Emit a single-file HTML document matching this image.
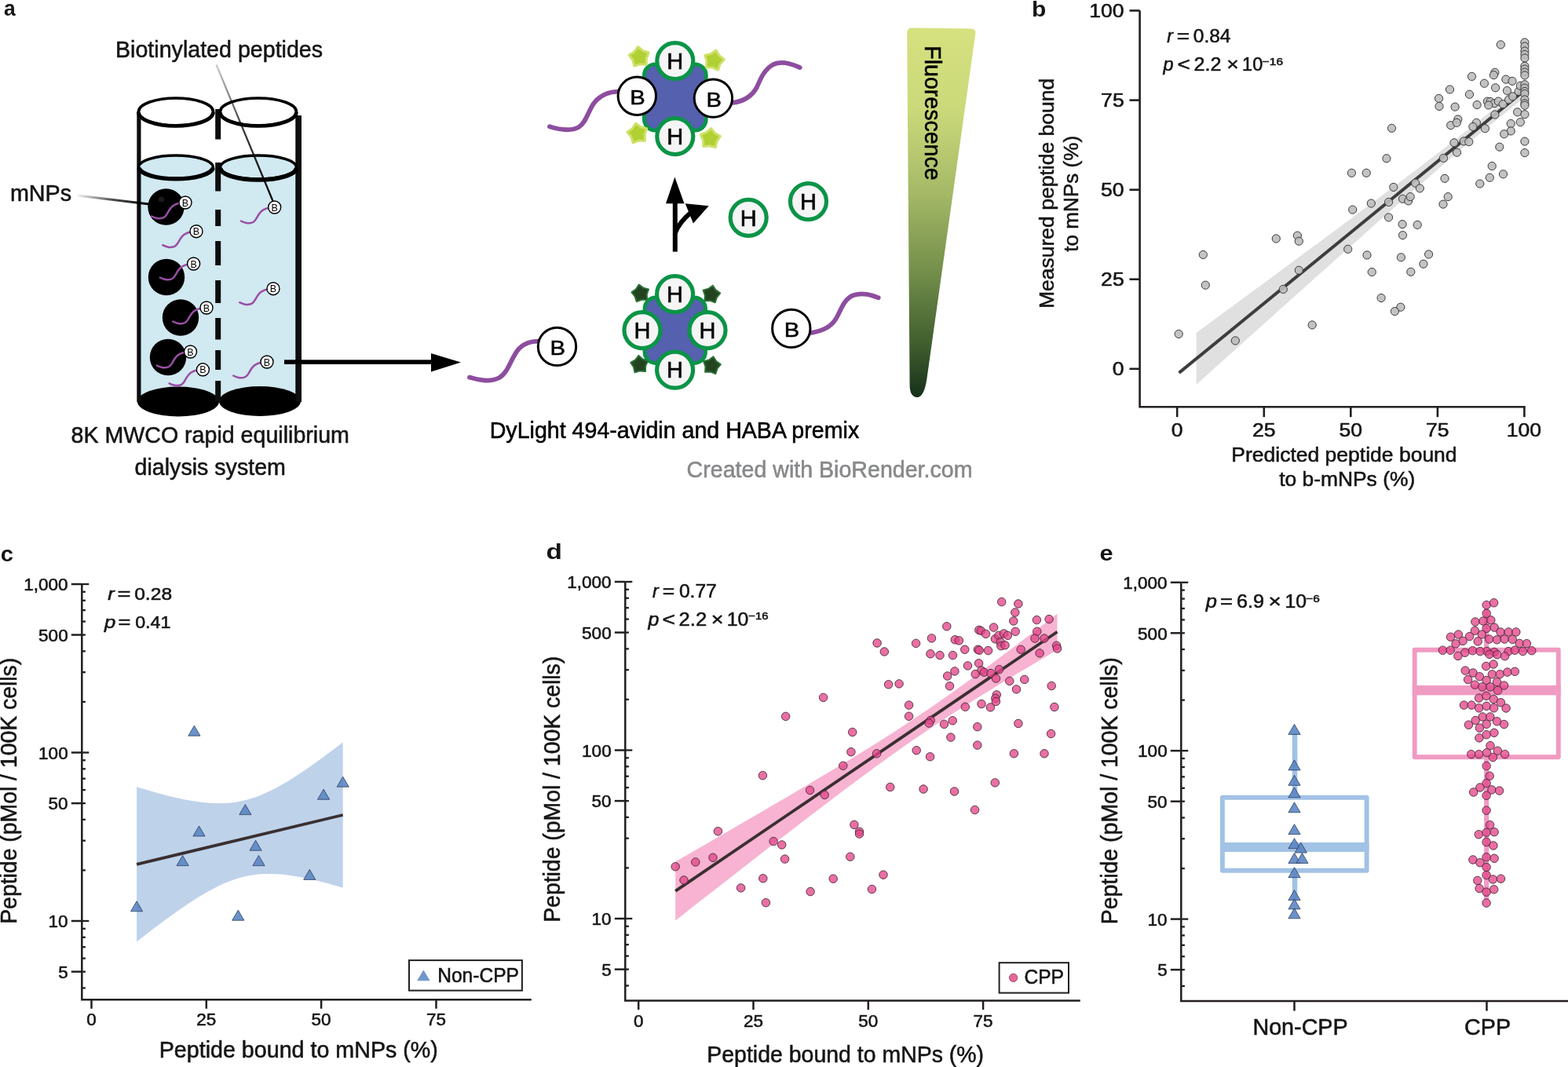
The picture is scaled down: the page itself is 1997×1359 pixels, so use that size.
<!DOCTYPE html><html><head><meta charset="utf-8"><title>Figure</title><style>html,body{margin:0;padding:0;background:#fff;}svg{display:block;}text{font-family:"Liberation Sans", Arial, Helvetica, sans-serif;}</style></head><body><svg width="1997" height="1359" viewBox="0 0 1997 1359"><rect width="1997" height="1359" fill="#fff"/><text x="5.1" y="20.4" font-size="28" fill="#151515" font-weight="bold" textLength="14.7" lengthAdjust="spacingAndGlyphs">a</text>
<text x="147" y="73.2" font-size="28.8" fill="#151515" stroke="#151515" stroke-width="0.55" textLength="264.1" lengthAdjust="spacingAndGlyphs">Biotinylated peptides</text>
<text x="12.9" y="255.6" font-size="28.8" fill="#151515" stroke="#151515" stroke-width="0.55" textLength="78.2" lengthAdjust="spacingAndGlyphs">mNPs</text>
<text x="90.5" y="564.3" font-size="28.8" fill="#151515" stroke="#151515" stroke-width="0.55" textLength="354.4" lengthAdjust="spacingAndGlyphs">8K MWCO rapid equilibrium</text>
<text x="171.6" y="605.2" font-size="28.8" fill="#151515" stroke="#151515" stroke-width="0.55" textLength="192.3" lengthAdjust="spacingAndGlyphs">dialysis system</text>
<text x="623.7" y="557.7" font-size="28.8" fill="#000" stroke="#000" stroke-width="0.55" textLength="470.5" lengthAdjust="spacingAndGlyphs">DyLight 494-avidin and HABA premix</text>
<text x="874.6" y="607.7" font-size="28.8" fill="#87888a" stroke="#87888a" stroke-width="0.55" textLength="363.9" lengthAdjust="spacingAndGlyphs">Created with BioRender.com</text>
<rect x="177" y="213" width="203" height="298" fill="#d1e9f1"/>
<ellipse cx="227" cy="511.5" rx="52" ry="19" fill="#000"/>
<ellipse cx="331" cy="511" rx="52" ry="19" fill="#000"/>
<rect x="174.3" y="142" width="5.2" height="370" fill="#0d0d0d"/>
<rect x="376.3" y="147" width="7.7" height="365" fill="#0d0d0d"/>
<rect x="274.2" y="139" width="7" height="38.5" fill="#0d0d0d"/>
<rect x="274.2" y="207" width="7" height="36.5" fill="#0d0d0d"/>
<rect x="274.2" y="267" width="7" height="21" fill="#0d0d0d"/>
<rect x="274.2" y="307" width="7" height="31" fill="#0d0d0d"/>
<rect x="274.2" y="357" width="7" height="29" fill="#0d0d0d"/>
<rect x="274.2" y="405" width="7" height="27.5" fill="#0d0d0d"/>
<rect x="274.2" y="446" width="7" height="25" fill="#0d0d0d"/>
<rect x="274.2" y="485" width="7" height="26" fill="#0d0d0d"/>
<ellipse cx="224" cy="213" rx="47.3" ry="15" fill="#d1e9f1" stroke="#000" stroke-width="3.6"/>
<ellipse cx="329" cy="213" rx="48.3" ry="15" fill="#d1e9f1" stroke="#000" stroke-width="3.6"/>
<path d="M177,214 A47.3,15 0 0 0 271.3,214" fill="none" stroke="#000" stroke-width="5.5"/>
<path d="M280.7,214 A48.3,15 0 0 0 377.3,214" fill="none" stroke="#000" stroke-width="5.5"/>
<ellipse cx="224" cy="142.4" rx="47.5" ry="17.4" fill="#fff" stroke="#000" stroke-width="3.7"/>
<ellipse cx="328.9" cy="142.4" rx="48.5" ry="17.4" fill="#fff" stroke="#000" stroke-width="3.7"/>
<path d="M176.5,143 A47.5,17.4 0 0 0 271.5,143" fill="none" stroke="#000" stroke-width="4.6"/>
<path d="M280.4,143 A48.5,17.4 0 0 0 377.4,143" fill="none" stroke="#000" stroke-width="4.6"/>
<circle cx="211.5" cy="263.5" r="23.2" fill="#000"/>
<circle cx="212" cy="353" r="23.2" fill="#000"/>
<circle cx="230" cy="404.5" r="23.2" fill="#000"/>
<circle cx="214" cy="455" r="23.2" fill="#000"/>
<ellipse cx="205.5" cy="254" rx="4" ry="3.5" fill="#1a1a1a"/>
<path d="M227.7,259 c-8.5,1.5 -12,8 -15,13.5 c-3,5.5 -7.5,6.5 -12.5,5.5 c-3,-0.5 -5,-1.5 -7,-2.5" fill="none" stroke="#9a4ea6" stroke-width="2.5" stroke-linecap="round"/>
<path d="M241.7,295.7 c-8.5,1.5 -12,8 -15,13.5 c-3,5.5 -7.5,6.5 -12.5,5.5 c-3,-0.5 -5,-1.5 -7,-2.5" fill="none" stroke="#9a4ea6" stroke-width="2.5" stroke-linecap="round"/>
<path d="M341.4,265 c-8.5,1.5 -12,8 -15,13.5 c-3,5.5 -7.5,6.5 -12.5,5.5 c-3,-0.5 -5,-1.5 -7,-2.5" fill="none" stroke="#9a4ea6" stroke-width="2.5" stroke-linecap="round"/>
<path d="M238.3,337 c-8.5,1.5 -12,8 -15,13.5 c-3,5.5 -7.5,6.5 -12.5,5.5 c-3,-0.5 -5,-1.5 -7,-2.5" fill="none" stroke="#9a4ea6" stroke-width="2.5" stroke-linecap="round"/>
<path d="M339.7,368.7 c-8.5,1.5 -12,8 -15,13.5 c-3,5.5 -7.5,6.5 -12.5,5.5 c-3,-0.5 -5,-1.5 -7,-2.5" fill="none" stroke="#9a4ea6" stroke-width="2.5" stroke-linecap="round"/>
<path d="M254.7,393 c-8.5,1.5 -12,8 -15,13.5 c-3,5.5 -7.5,6.5 -12.5,5.5 c-3,-0.5 -5,-1.5 -7,-2.5" fill="none" stroke="#9a4ea6" stroke-width="2.5" stroke-linecap="round"/>
<path d="M234.2,449 c-8.5,1.5 -12,8 -15,13.5 c-3,5.5 -7.5,6.5 -12.5,5.5 c-3,-0.5 -5,-1.5 -7,-2.5" fill="none" stroke="#9a4ea6" stroke-width="2.5" stroke-linecap="round"/>
<path d="M250.1,471.8 c-8.5,1.5 -12,8 -15,13.5 c-3,5.5 -7.5,6.5 -12.5,5.5 c-3,-0.5 -5,-1.5 -7,-2.5" fill="none" stroke="#9a4ea6" stroke-width="2.5" stroke-linecap="round"/>
<path d="M331.7,462 c-8.5,1.5 -12,8 -15,13.5 c-3,5.5 -7.5,6.5 -12.5,5.5 c-3,-0.5 -5,-1.5 -7,-2.5" fill="none" stroke="#9a4ea6" stroke-width="2.5" stroke-linecap="round"/>
<circle cx="236" cy="258" r="8" fill="#fff" stroke="#000" stroke-width="1.4"/>
<text x="236" y="262.6" font-size="12.5" text-anchor="middle" fill="#000">B</text>
<circle cx="250" cy="294.7" r="8" fill="#fff" stroke="#000" stroke-width="1.4"/>
<text x="250" y="299.3" font-size="12.5" text-anchor="middle" fill="#000">B</text>
<circle cx="349.7" cy="264" r="8" fill="#fff" stroke="#000" stroke-width="1.4"/>
<text x="349.7" y="268.6" font-size="12.5" text-anchor="middle" fill="#000">B</text>
<circle cx="246.6" cy="336" r="8" fill="#fff" stroke="#000" stroke-width="1.4"/>
<text x="246.6" y="340.6" font-size="12.5" text-anchor="middle" fill="#000">B</text>
<circle cx="348" cy="367.7" r="8" fill="#fff" stroke="#000" stroke-width="1.4"/>
<text x="348" y="372.3" font-size="12.5" text-anchor="middle" fill="#000">B</text>
<circle cx="263" cy="392" r="8" fill="#fff" stroke="#000" stroke-width="1.4"/>
<text x="263" y="396.6" font-size="12.5" text-anchor="middle" fill="#000">B</text>
<circle cx="242.5" cy="448" r="8" fill="#fff" stroke="#000" stroke-width="1.4"/>
<text x="242.5" y="452.6" font-size="12.5" text-anchor="middle" fill="#000">B</text>
<circle cx="258.4" cy="470.8" r="8" fill="#fff" stroke="#000" stroke-width="1.4"/>
<text x="258.4" y="475.4" font-size="12.5" text-anchor="middle" fill="#000">B</text>
<circle cx="340" cy="461" r="8" fill="#fff" stroke="#000" stroke-width="1.4"/>
<text x="340" y="465.6" font-size="12.5" text-anchor="middle" fill="#000">B</text>
<defs><linearGradient id="gBio" gradientUnits="userSpaceOnUse" x1="275.5" y1="82.4" x2="347.5" y2="256"><stop offset="0" stop-color="#000" stop-opacity="0.2"/><stop offset="0.45" stop-color="#000" stop-opacity="0.75"/><stop offset="1" stop-color="#000"/></linearGradient><linearGradient id="gNP" gradientUnits="userSpaceOnUse" x1="98.6" y1="249" x2="190" y2="260"><stop offset="0" stop-color="#000" stop-opacity="0.05"/><stop offset="0.5" stop-color="#000" stop-opacity="0.7"/><stop offset="1" stop-color="#000"/></linearGradient><linearGradient id="gFl" x1="0" y1="0" x2="0" y2="1"><stop offset="0" stop-color="#d6e17f"/><stop offset="0.22" stop-color="#cbd97a"/><stop offset="0.45" stop-color="#a4b866"/><stop offset="0.65" stop-color="#76914c"/><stop offset="0.85" stop-color="#41602f"/><stop offset="1" stop-color="#17301a"/></linearGradient></defs>
<line x1="275.5" y1="82.4" x2="347.5" y2="256" stroke="url(#gBio)" stroke-width="2.3"/>
<line x1="98.6" y1="249" x2="190" y2="260" stroke="url(#gNP)" stroke-width="3"/>
<rect x="362" y="458.3" width="190" height="5.6" fill="#000"/>
<polygon points="549,450 587,461.5 549,473.5" fill="#000"/>
<path d="M700,161.3 C712,165 726,168 737,162 C746,157 749,142 756,132 C764,121 774,117 786.6,116.6" fill="none" stroke="#8d4d9f" stroke-width="5.8" stroke-linecap="round"/>
<path d="M933,130.9 C948,129 958,122 964,111 C969,99 974,88 985,82 C996,77 1008,81 1018.7,86.1" fill="none" stroke="#8d4d9f" stroke-width="5.8" stroke-linecap="round"/>
<path d="M598,480.6 C608,483 622,488 636,481 C648,474 651,455 661,444 C669,436 677,435 684.6,434.6" fill="none" stroke="#8d4d9f" stroke-width="5.8" stroke-linecap="round"/>
<path d="M1033.5,423.8 C1045,422 1057,418 1064,407 C1071,396 1074,381 1087,376 C1099,372 1110,376 1118.7,379.2" fill="none" stroke="#8d4d9f" stroke-width="5.8" stroke-linecap="round"/>
<rect x="820.4" y="81.9" width="78.9" height="84.2" rx="14" fill="#5560ae" stroke="#0a9447" stroke-width="4.8"/>
<path d="M812.6,59.5 L818.7,64.6 L826.2,67 L823.2,74.4 L823.2,82.3 L815.3,81.7 L807.8,84.1 L805.9,76.5 L801.2,70.1 L807.9,65.9 Z" fill="#b0d033" stroke="#cfe168" stroke-width="3" stroke-linejoin="round"/>
<path d="M911.9,64.1 L916,70.8 L922.3,75.6 L917.2,81.6 L914.6,89.1 L907.3,86 L899.4,85.8 L900.1,78 L897.8,70.4 L905.5,68.6 Z" fill="#b0d033" stroke="#cfe168" stroke-width="3" stroke-linejoin="round"/>
<path d="M809.7,157 L816,161.7 L823.7,163.8 L821.1,171.3 L821.5,179.2 L813.6,179.1 L806.2,181.9 L803.9,174.3 L798.9,168.2 L805.4,163.6 Z" fill="#b0d033" stroke="#cfe168" stroke-width="3" stroke-linejoin="round"/>
<path d="M905.7,163.4 L910.5,169.6 L917.4,173.5 L913,180.1 L911.3,187.8 L903.7,185.7 L895.8,186.5 L895.5,178.6 L892.3,171.3 L899.8,168.6 Z" fill="#b0d033" stroke="#cfe168" stroke-width="3" stroke-linejoin="round"/>
<circle cx="811.3" cy="122.3" r="24.2" fill="#fff" stroke="#000" stroke-width="3"/>
<text x="812.1" y="132.9" font-size="26" text-anchor="middle" fill="#000" stroke="#000" stroke-width="0.5" textLength="19.5" lengthAdjust="spacingAndGlyphs">B</text>
<circle cx="908.4" cy="125.1" r="24.2" fill="#fff" stroke="#000" stroke-width="3"/>
<text x="909.2" y="135.7" font-size="26" text-anchor="middle" fill="#000" stroke="#000" stroke-width="0.5" textLength="19.5" lengthAdjust="spacingAndGlyphs">B</text>
<circle cx="859.8" cy="77.6" r="23" fill="#f5f5f5" stroke="#0a9447" stroke-width="5.2"/>
<text x="859.8" y="87.8" font-size="29" text-anchor="middle" fill="#000" stroke="#000" stroke-width="0.6">H</text>
<circle cx="859.8" cy="173.7" r="23" fill="#f5f5f5" stroke="#0a9447" stroke-width="5.2"/>
<text x="859.8" y="183.9" font-size="29" text-anchor="middle" fill="#000" stroke="#000" stroke-width="0.6">H</text>
<rect x="821" y="379" width="77.5" height="83.5" rx="14" fill="#5560ae" stroke="#0a9447" stroke-width="4.8"/>
<path d="M813.8,362.5 L819.3,366.6 L826,368.4 L823.7,374.9 L824.1,381.8 L817.2,381.7 L810.8,384.1 L808.7,377.6 L804.4,372.2 L810,368.2 Z" fill="#23431f" stroke="#2c6e36" stroke-width="2" stroke-linejoin="round"/>
<path d="M907.8,363.7 L911.6,369.4 L917.2,373.4 L912.9,378.8 L910.8,385.3 L904.4,382.9 L897.5,383 L897.9,376.1 L895.6,369.6 L902.3,367.8 Z" fill="#23431f" stroke="#2c6e36" stroke-width="2" stroke-linejoin="round"/>
<path d="M813.4,452.9 L818.5,457.5 L825,459.9 L822.2,466.2 L821.9,473.1 L815.1,472.4 L808.5,474.3 L807,467.5 L803.2,461.8 L809.2,458.4 Z" fill="#23431f" stroke="#2c6e36" stroke-width="2" stroke-linejoin="round"/>
<path d="M908.4,454.4 L912.2,460.1 L917.8,464.1 L913.5,469.5 L911.4,476 L905,473.6 L898.1,473.7 L898.5,466.8 L896.2,460.3 L902.9,458.5 Z" fill="#23431f" stroke="#2c6e36" stroke-width="2" stroke-linejoin="round"/>
<circle cx="859.6" cy="374.6" r="23" fill="#f5f5f5" stroke="#0a9447" stroke-width="5.2"/>
<text x="859.6" y="384.8" font-size="29" text-anchor="middle" fill="#000" stroke="#000" stroke-width="0.6">H</text>
<circle cx="859.6" cy="471.2" r="23" fill="#f5f5f5" stroke="#0a9447" stroke-width="5.2"/>
<text x="859.6" y="481.4" font-size="29" text-anchor="middle" fill="#000" stroke="#000" stroke-width="0.6">H</text>
<circle cx="818" cy="420.6" r="23" fill="#f5f5f5" stroke="#0a9447" stroke-width="5.2"/>
<text x="818" y="430.8" font-size="29" text-anchor="middle" fill="#000" stroke="#000" stroke-width="0.6">H</text>
<circle cx="901" cy="420.6" r="23" fill="#f5f5f5" stroke="#0a9447" stroke-width="5.2"/>
<text x="901" y="430.8" font-size="29" text-anchor="middle" fill="#000" stroke="#000" stroke-width="0.6">H</text>
<circle cx="709.5" cy="441.4" r="24.2" fill="#fff" stroke="#000" stroke-width="3"/>
<text x="710.3" y="452" font-size="26" text-anchor="middle" fill="#000" stroke="#000" stroke-width="0.5" textLength="19.5" lengthAdjust="spacingAndGlyphs">B</text>
<circle cx="1007.8" cy="418.4" r="24.2" fill="#fff" stroke="#000" stroke-width="3"/>
<text x="1008.6" y="429" font-size="26" text-anchor="middle" fill="#000" stroke="#000" stroke-width="0.5" textLength="19.5" lengthAdjust="spacingAndGlyphs">B</text>
<circle cx="953.2" cy="277.3" r="23" fill="#f5f5f5" stroke="#0a9447" stroke-width="5.2"/>
<text x="953.2" y="287.5" font-size="29" text-anchor="middle" fill="#000" stroke="#000" stroke-width="0.6">H</text>
<circle cx="1029.5" cy="256.6" r="23" fill="#f5f5f5" stroke="#0a9447" stroke-width="5.2"/>
<text x="1029.5" y="266.8" font-size="29" text-anchor="middle" fill="#000" stroke="#000" stroke-width="0.6">H</text>
<rect x="856.8" y="258" width="6" height="62.6" fill="#000"/>
<polygon points="859.4,225.6 848,259.3 871.5,259.3" fill="#000"/>
<path d="M859.8,297 C864,286 870,279 879,271.5" fill="none" stroke="#000" stroke-width="6"/>
<polygon points="872.7,259.3 902.7,262.3 882.9,284.5 876.9,269.5" fill="#000"/>
<path d="M1161,35.5 L1236.5,36.6 Q1243.5,37 1242.2,44 L1180.5,482 Q1177,506 1168,506 Q1158.6,505.5 1158.6,490 L1155.2,42 Q1155.3,35.5 1161,35.5 Z" fill="url(#gFl)"/>
<text transform="translate(1177.9,58.3) rotate(90)" font-size="30" fill="#000" stroke="#000" stroke-width="0.55" textLength="171.3" lengthAdjust="spacingAndGlyphs">Fluorescence</text>
<text x="1314" y="20.7" font-size="27" fill="#151515" font-weight="bold" textLength="18.3" lengthAdjust="spacingAndGlyphs">b</text>
<polygon points="1523.6,423.9 1534,416.2 1544.5,408.5 1554.9,400.8 1565.4,393.2 1575.8,385.5 1586.3,377.8 1596.7,370.1 1607.2,362.4 1617.6,354.7 1628,347 1638.5,339.2 1648.9,331.5 1659.4,323.8 1669.8,316.1 1680.3,308.4 1690.7,300.6 1701.2,292.9 1711.6,285.1 1722.1,277.4 1732.5,269.6 1742.9,261.8 1753.4,254 1763.8,246.2 1774.3,238.3 1784.7,230.5 1795.2,222.6 1805.6,214.7 1816.1,206.7 1826.5,198.7 1837,190.7 1847.4,182.6 1857.8,174.4 1868.3,166.2 1878.7,157.9 1889.2,149.5 1899.6,141 1910.1,132.4 1920.5,123.7 1931,115 1941.4,106.1 1941.4,124.5 1931,132.7 1920.5,141.1 1910.1,149.5 1899.6,158 1889.2,166.6 1878.7,175.2 1868.3,184 1857.8,192.8 1847.4,201.8 1837,210.7 1826.5,219.8 1816.1,228.9 1805.6,238 1795.2,247.2 1784.7,256.4 1774.3,265.6 1763.8,274.8 1753.4,284.1 1742.9,293.4 1732.5,302.7 1722.1,312 1711.6,321.3 1701.2,330.6 1690.7,339.9 1680.3,349.3 1669.8,358.6 1659.4,368 1648.9,377.3 1638.5,386.7 1628,396.1 1617.6,405.4 1607.2,414.8 1596.7,424.2 1586.3,433.6 1575.8,443 1565.4,452.3 1554.9,461.7 1544.5,471.1 1534,480.5 1523.6,489.9" fill="#e0e0e0"/>
<line x1="1501.6" y1="474.9" x2="1941.4" y2="115.3" stroke="#3d3d3d" stroke-width="4"/>
<circle cx="1501.2" cy="425.4" r="5.1" fill="#bcbcbc" fill-opacity="0.9" stroke="#3a3a3a" stroke-width="1"/>
<circle cx="1532.3" cy="324.4" r="5.1" fill="#bcbcbc" fill-opacity="0.9" stroke="#3a3a3a" stroke-width="1"/>
<circle cx="1535.3" cy="363.2" r="5.1" fill="#bcbcbc" fill-opacity="0.9" stroke="#3a3a3a" stroke-width="1"/>
<circle cx="1573.3" cy="433.9" r="5.1" fill="#bcbcbc" fill-opacity="0.9" stroke="#3a3a3a" stroke-width="1"/>
<circle cx="1625.3" cy="303.9" r="5.1" fill="#bcbcbc" fill-opacity="0.9" stroke="#3a3a3a" stroke-width="1"/>
<circle cx="1652.4" cy="300.1" r="5.1" fill="#bcbcbc" fill-opacity="0.9" stroke="#3a3a3a" stroke-width="1"/>
<circle cx="1654.3" cy="307.2" r="5.1" fill="#bcbcbc" fill-opacity="0.9" stroke="#3a3a3a" stroke-width="1"/>
<circle cx="1654.3" cy="344.2" r="5.1" fill="#bcbcbc" fill-opacity="0.9" stroke="#3a3a3a" stroke-width="1"/>
<circle cx="1634.3" cy="368.4" r="5.1" fill="#bcbcbc" fill-opacity="0.9" stroke="#3a3a3a" stroke-width="1"/>
<circle cx="1671.2" cy="413.9" r="5.1" fill="#bcbcbc" fill-opacity="0.9" stroke="#3a3a3a" stroke-width="1"/>
<circle cx="1716.7" cy="317.3" r="5.1" fill="#bcbcbc" fill-opacity="0.9" stroke="#3a3a3a" stroke-width="1"/>
<circle cx="1772.5" cy="163.3" r="5.1" fill="#bcbcbc" fill-opacity="0.9" stroke="#3a3a3a" stroke-width="1"/>
<circle cx="1765.9" cy="201.8" r="5.1" fill="#bcbcbc" fill-opacity="0.9" stroke="#3a3a3a" stroke-width="1"/>
<circle cx="1721.4" cy="220.3" r="5.1" fill="#bcbcbc" fill-opacity="0.9" stroke="#3a3a3a" stroke-width="1"/>
<circle cx="1740.2" cy="220.3" r="5.1" fill="#bcbcbc" fill-opacity="0.9" stroke="#3a3a3a" stroke-width="1"/>
<circle cx="1774.8" cy="238.4" r="5.1" fill="#bcbcbc" fill-opacity="0.9" stroke="#3a3a3a" stroke-width="1"/>
<circle cx="1746.3" cy="259" r="5.1" fill="#bcbcbc" fill-opacity="0.9" stroke="#3a3a3a" stroke-width="1"/>
<circle cx="1722.7" cy="267.1" r="5.1" fill="#bcbcbc" fill-opacity="0.9" stroke="#3a3a3a" stroke-width="1"/>
<circle cx="1768.6" cy="257.4" r="5.1" fill="#bcbcbc" fill-opacity="0.9" stroke="#3a3a3a" stroke-width="1"/>
<circle cx="1786.5" cy="253.3" r="5.1" fill="#bcbcbc" fill-opacity="0.9" stroke="#3a3a3a" stroke-width="1"/>
<circle cx="1793.7" cy="255.9" r="5.1" fill="#bcbcbc" fill-opacity="0.9" stroke="#3a3a3a" stroke-width="1"/>
<circle cx="1796.2" cy="250.6" r="5.1" fill="#bcbcbc" fill-opacity="0.9" stroke="#3a3a3a" stroke-width="1"/>
<circle cx="1802.6" cy="233.1" r="5.1" fill="#bcbcbc" fill-opacity="0.9" stroke="#3a3a3a" stroke-width="1"/>
<circle cx="1808.3" cy="239.9" r="5.1" fill="#bcbcbc" fill-opacity="0.9" stroke="#3a3a3a" stroke-width="1"/>
<circle cx="1838.4" cy="201.4" r="5.1" fill="#bcbcbc" fill-opacity="0.9" stroke="#3a3a3a" stroke-width="1"/>
<circle cx="1840" cy="227.3" r="5.1" fill="#bcbcbc" fill-opacity="0.9" stroke="#3a3a3a" stroke-width="1"/>
<circle cx="1844.2" cy="250.6" r="5.1" fill="#bcbcbc" fill-opacity="0.9" stroke="#3a3a3a" stroke-width="1"/>
<circle cx="1838" cy="260.1" r="5.1" fill="#bcbcbc" fill-opacity="0.9" stroke="#3a3a3a" stroke-width="1"/>
<circle cx="1768.6" cy="276.9" r="5.1" fill="#bcbcbc" fill-opacity="0.9" stroke="#3a3a3a" stroke-width="1"/>
<circle cx="1786.1" cy="285.6" r="5.1" fill="#bcbcbc" fill-opacity="0.9" stroke="#3a3a3a" stroke-width="1"/>
<circle cx="1805.2" cy="286.4" r="5.1" fill="#bcbcbc" fill-opacity="0.9" stroke="#3a3a3a" stroke-width="1"/>
<circle cx="1786.5" cy="299.6" r="5.1" fill="#bcbcbc" fill-opacity="0.9" stroke="#3a3a3a" stroke-width="1"/>
<circle cx="1741" cy="324.9" r="5.1" fill="#bcbcbc" fill-opacity="0.9" stroke="#3a3a3a" stroke-width="1"/>
<circle cx="1784.4" cy="327.8" r="5.1" fill="#bcbcbc" fill-opacity="0.9" stroke="#3a3a3a" stroke-width="1"/>
<circle cx="1819.6" cy="323.9" r="5.1" fill="#bcbcbc" fill-opacity="0.9" stroke="#3a3a3a" stroke-width="1"/>
<circle cx="1812.9" cy="336.2" r="5.1" fill="#bcbcbc" fill-opacity="0.9" stroke="#3a3a3a" stroke-width="1"/>
<circle cx="1747.2" cy="346.5" r="5.1" fill="#bcbcbc" fill-opacity="0.9" stroke="#3a3a3a" stroke-width="1"/>
<circle cx="1796.8" cy="346.3" r="5.1" fill="#bcbcbc" fill-opacity="0.9" stroke="#3a3a3a" stroke-width="1"/>
<circle cx="1759.1" cy="379.5" r="5.1" fill="#bcbcbc" fill-opacity="0.9" stroke="#3a3a3a" stroke-width="1"/>
<circle cx="1783.8" cy="391.2" r="5.1" fill="#bcbcbc" fill-opacity="0.9" stroke="#3a3a3a" stroke-width="1"/>
<circle cx="1776.4" cy="396.6" r="5.1" fill="#bcbcbc" fill-opacity="0.9" stroke="#3a3a3a" stroke-width="1"/>
<circle cx="1852" cy="181.8" r="5.1" fill="#bcbcbc" fill-opacity="0.9" stroke="#3a3a3a" stroke-width="1"/>
<circle cx="1855.5" cy="194.2" r="5.1" fill="#bcbcbc" fill-opacity="0.9" stroke="#3a3a3a" stroke-width="1"/>
<circle cx="1847.7" cy="159.6" r="5.1" fill="#bcbcbc" fill-opacity="0.9" stroke="#3a3a3a" stroke-width="1"/>
<circle cx="1911.3" cy="56.9" r="5.1" fill="#bcbcbc" fill-opacity="0.9" stroke="#3a3a3a" stroke-width="1"/>
<circle cx="1874.5" cy="97.4" r="5.1" fill="#bcbcbc" fill-opacity="0.9" stroke="#3a3a3a" stroke-width="1"/>
<circle cx="1846.5" cy="114" r="5.1" fill="#bcbcbc" fill-opacity="0.9" stroke="#3a3a3a" stroke-width="1"/>
<circle cx="1832.5" cy="125.4" r="5.1" fill="#bcbcbc" fill-opacity="0.9" stroke="#3a3a3a" stroke-width="1"/>
<circle cx="1833" cy="135.4" r="5.1" fill="#bcbcbc" fill-opacity="0.9" stroke="#3a3a3a" stroke-width="1"/>
<circle cx="1853.1" cy="136.1" r="5.1" fill="#bcbcbc" fill-opacity="0.9" stroke="#3a3a3a" stroke-width="1"/>
<circle cx="1871.5" cy="120.2" r="5.1" fill="#bcbcbc" fill-opacity="0.9" stroke="#3a3a3a" stroke-width="1"/>
<circle cx="1890.4" cy="106.2" r="5.1" fill="#bcbcbc" fill-opacity="0.9" stroke="#3a3a3a" stroke-width="1"/>
<circle cx="1903.9" cy="92.3" r="5.1" fill="#bcbcbc" fill-opacity="0.9" stroke="#3a3a3a" stroke-width="1"/>
<circle cx="1902.4" cy="95.6" r="5.1" fill="#bcbcbc" fill-opacity="0.9" stroke="#3a3a3a" stroke-width="1"/>
<circle cx="1904.6" cy="111.8" r="5.1" fill="#bcbcbc" fill-opacity="0.9" stroke="#3a3a3a" stroke-width="1"/>
<circle cx="1917.9" cy="101.1" r="5.1" fill="#bcbcbc" fill-opacity="0.9" stroke="#3a3a3a" stroke-width="1"/>
<circle cx="1926" cy="103.3" r="5.1" fill="#bcbcbc" fill-opacity="0.9" stroke="#3a3a3a" stroke-width="1"/>
<circle cx="1919.4" cy="115.5" r="5.1" fill="#bcbcbc" fill-opacity="0.9" stroke="#3a3a3a" stroke-width="1"/>
<circle cx="1881.1" cy="133.5" r="5.1" fill="#bcbcbc" fill-opacity="0.9" stroke="#3a3a3a" stroke-width="1"/>
<circle cx="1894.3" cy="129.1" r="5.1" fill="#bcbcbc" fill-opacity="0.9" stroke="#3a3a3a" stroke-width="1"/>
<circle cx="1898" cy="129.5" r="5.1" fill="#bcbcbc" fill-opacity="0.9" stroke="#3a3a3a" stroke-width="1"/>
<circle cx="1903.2" cy="131.6" r="5.1" fill="#bcbcbc" fill-opacity="0.9" stroke="#3a3a3a" stroke-width="1"/>
<circle cx="1908.3" cy="129.1" r="5.1" fill="#bcbcbc" fill-opacity="0.9" stroke="#3a3a3a" stroke-width="1"/>
<circle cx="1895.8" cy="133.9" r="5.1" fill="#bcbcbc" fill-opacity="0.9" stroke="#3a3a3a" stroke-width="1"/>
<circle cx="1914.2" cy="132.7" r="5.1" fill="#bcbcbc" fill-opacity="0.9" stroke="#3a3a3a" stroke-width="1"/>
<circle cx="1921.6" cy="126.9" r="5.1" fill="#bcbcbc" fill-opacity="0.9" stroke="#3a3a3a" stroke-width="1"/>
<circle cx="1926.7" cy="122.9" r="5.1" fill="#bcbcbc" fill-opacity="0.9" stroke="#3a3a3a" stroke-width="1"/>
<circle cx="1934.1" cy="116.5" r="5.1" fill="#bcbcbc" fill-opacity="0.9" stroke="#3a3a3a" stroke-width="1"/>
<circle cx="1936.3" cy="109.2" r="5.1" fill="#bcbcbc" fill-opacity="0.9" stroke="#3a3a3a" stroke-width="1"/>
<circle cx="1903.9" cy="146" r="5.1" fill="#bcbcbc" fill-opacity="0.9" stroke="#3a3a3a" stroke-width="1"/>
<circle cx="1932.6" cy="142.8" r="5.1" fill="#bcbcbc" fill-opacity="0.9" stroke="#3a3a3a" stroke-width="1"/>
<circle cx="1941.9" cy="145.7" r="5.1" fill="#bcbcbc" fill-opacity="0.9" stroke="#3a3a3a" stroke-width="1"/>
<circle cx="1856.8" cy="151.9" r="5.1" fill="#bcbcbc" fill-opacity="0.9" stroke="#3a3a3a" stroke-width="1"/>
<circle cx="1855.3" cy="156.3" r="5.1" fill="#bcbcbc" fill-opacity="0.9" stroke="#3a3a3a" stroke-width="1"/>
<circle cx="1880.4" cy="156.3" r="5.1" fill="#bcbcbc" fill-opacity="0.9" stroke="#3a3a3a" stroke-width="1"/>
<circle cx="1875.9" cy="161.4" r="5.1" fill="#bcbcbc" fill-opacity="0.9" stroke="#3a3a3a" stroke-width="1"/>
<circle cx="1891.4" cy="163.7" r="5.1" fill="#bcbcbc" fill-opacity="0.9" stroke="#3a3a3a" stroke-width="1"/>
<circle cx="1924.2" cy="157.5" r="5.1" fill="#bcbcbc" fill-opacity="0.9" stroke="#3a3a3a" stroke-width="1"/>
<circle cx="1936.3" cy="155.6" r="5.1" fill="#bcbcbc" fill-opacity="0.9" stroke="#3a3a3a" stroke-width="1"/>
<circle cx="1924.2" cy="166.9" r="5.1" fill="#bcbcbc" fill-opacity="0.9" stroke="#3a3a3a" stroke-width="1"/>
<circle cx="1915.7" cy="170.7" r="5.1" fill="#bcbcbc" fill-opacity="0.9" stroke="#3a3a3a" stroke-width="1"/>
<circle cx="1864.2" cy="179.9" r="5.1" fill="#bcbcbc" fill-opacity="0.9" stroke="#3a3a3a" stroke-width="1"/>
<circle cx="1870.8" cy="180.6" r="5.1" fill="#bcbcbc" fill-opacity="0.9" stroke="#3a3a3a" stroke-width="1"/>
<circle cx="1909.8" cy="187.2" r="5.1" fill="#bcbcbc" fill-opacity="0.9" stroke="#3a3a3a" stroke-width="1"/>
<circle cx="1941.9" cy="180.1" r="5.1" fill="#bcbcbc" fill-opacity="0.9" stroke="#3a3a3a" stroke-width="1"/>
<circle cx="1941.9" cy="194.6" r="5.1" fill="#bcbcbc" fill-opacity="0.9" stroke="#3a3a3a" stroke-width="1"/>
<circle cx="1900.2" cy="211.5" r="5.1" fill="#bcbcbc" fill-opacity="0.9" stroke="#3a3a3a" stroke-width="1"/>
<circle cx="1914.5" cy="221.8" r="5.1" fill="#bcbcbc" fill-opacity="0.9" stroke="#3a3a3a" stroke-width="1"/>
<circle cx="1897.3" cy="226.2" r="5.1" fill="#bcbcbc" fill-opacity="0.9" stroke="#3a3a3a" stroke-width="1"/>
<circle cx="1884.8" cy="234" r="5.1" fill="#bcbcbc" fill-opacity="0.9" stroke="#3a3a3a" stroke-width="1"/>
<circle cx="1941.9" cy="54" r="5.1" fill="#bcbcbc" fill-opacity="0.9" stroke="#3a3a3a" stroke-width="1"/>
<circle cx="1941.9" cy="59.1" r="5.1" fill="#bcbcbc" fill-opacity="0.9" stroke="#3a3a3a" stroke-width="1"/>
<circle cx="1941.9" cy="65" r="5.1" fill="#bcbcbc" fill-opacity="0.9" stroke="#3a3a3a" stroke-width="1"/>
<circle cx="1941.9" cy="69.4" r="5.1" fill="#bcbcbc" fill-opacity="0.9" stroke="#3a3a3a" stroke-width="1"/>
<circle cx="1941.9" cy="73.9" r="5.1" fill="#bcbcbc" fill-opacity="0.9" stroke="#3a3a3a" stroke-width="1"/>
<circle cx="1941.9" cy="84.2" r="5.1" fill="#bcbcbc" fill-opacity="0.9" stroke="#3a3a3a" stroke-width="1"/>
<circle cx="1941.9" cy="88" r="5.1" fill="#bcbcbc" fill-opacity="0.9" stroke="#3a3a3a" stroke-width="1"/>
<circle cx="1941.9" cy="92" r="5.1" fill="#bcbcbc" fill-opacity="0.9" stroke="#3a3a3a" stroke-width="1"/>
<circle cx="1941.9" cy="95.9" r="5.1" fill="#bcbcbc" fill-opacity="0.9" stroke="#3a3a3a" stroke-width="1"/>
<circle cx="1941.9" cy="107.7" r="5.1" fill="#bcbcbc" fill-opacity="0.9" stroke="#3a3a3a" stroke-width="1"/>
<circle cx="1941.9" cy="112.1" r="5.1" fill="#bcbcbc" fill-opacity="0.9" stroke="#3a3a3a" stroke-width="1"/>
<circle cx="1941.9" cy="116.5" r="5.1" fill="#bcbcbc" fill-opacity="0.9" stroke="#3a3a3a" stroke-width="1"/>
<circle cx="1941.9" cy="119.5" r="5.1" fill="#bcbcbc" fill-opacity="0.9" stroke="#3a3a3a" stroke-width="1"/>
<circle cx="1941.9" cy="126.9" r="5.1" fill="#bcbcbc" fill-opacity="0.9" stroke="#3a3a3a" stroke-width="1"/>
<circle cx="1941.9" cy="131.7" r="5.1" fill="#bcbcbc" fill-opacity="0.9" stroke="#3a3a3a" stroke-width="1"/>
<circle cx="1941.9" cy="134.2" r="5.1" fill="#bcbcbc" fill-opacity="0.9" stroke="#3a3a3a" stroke-width="1"/>
<path d="M1451.6,13.5 V518.3 H1942.6" fill="none" stroke="#231f20" stroke-width="2.6"/>
<line x1="1438.5" y1="469.8" x2="1451.6" y2="469.8" stroke="#231f20" stroke-width="2.6"/>
<text x="1416.8" y="478.2" font-size="24" fill="#151515" stroke="#151515" stroke-width="0.55" textLength="14.8" lengthAdjust="spacingAndGlyphs">0</text>
<line x1="1499.2" y1="518.3" x2="1499.2" y2="531.2" stroke="#231f20" stroke-width="2.6"/>
<text x="1491.7" y="556" font-size="24" fill="#151515" stroke="#151515" stroke-width="0.55" textLength="14.8" lengthAdjust="spacingAndGlyphs">0</text>
<line x1="1438.5" y1="355.7" x2="1451.6" y2="355.7" stroke="#231f20" stroke-width="2.6"/>
<text x="1402.1" y="364.1" font-size="24" fill="#151515" stroke="#151515" stroke-width="0.55" textLength="29.6" lengthAdjust="spacingAndGlyphs">25</text>
<line x1="1609.8" y1="518.3" x2="1609.8" y2="531.2" stroke="#231f20" stroke-width="2.6"/>
<text x="1594.9" y="556" font-size="24" fill="#151515" stroke="#151515" stroke-width="0.55" textLength="29.6" lengthAdjust="spacingAndGlyphs">25</text>
<line x1="1438.5" y1="241.7" x2="1451.6" y2="241.7" stroke="#231f20" stroke-width="2.6"/>
<text x="1402" y="250.1" font-size="24" fill="#151515" stroke="#151515" stroke-width="0.55" textLength="29.6" lengthAdjust="spacingAndGlyphs">50</text>
<line x1="1720.3" y1="518.3" x2="1720.3" y2="531.2" stroke="#231f20" stroke-width="2.6"/>
<text x="1705.5" y="556" font-size="24" fill="#151515" stroke="#151515" stroke-width="0.55" textLength="29.6" lengthAdjust="spacingAndGlyphs">50</text>
<line x1="1438.5" y1="127.6" x2="1451.6" y2="127.6" stroke="#231f20" stroke-width="2.6"/>
<text x="1402.1" y="136" font-size="24" fill="#151515" stroke="#151515" stroke-width="0.55" textLength="29.6" lengthAdjust="spacingAndGlyphs">75</text>
<line x1="1830.9" y1="518.3" x2="1830.9" y2="531.2" stroke="#231f20" stroke-width="2.6"/>
<text x="1816" y="556" font-size="24" fill="#151515" stroke="#151515" stroke-width="0.55" textLength="29.6" lengthAdjust="spacingAndGlyphs">75</text>
<line x1="1438.5" y1="13.5" x2="1451.6" y2="13.5" stroke="#231f20" stroke-width="2.6"/>
<text x="1387.2" y="21.9" font-size="24" fill="#151515" stroke="#151515" stroke-width="0.55" textLength="44.4" lengthAdjust="spacingAndGlyphs">100</text>
<line x1="1941.4" y1="518.3" x2="1941.4" y2="531.2" stroke="#231f20" stroke-width="2.6"/>
<text x="1918.7" y="556" font-size="24" fill="#151515" stroke="#151515" stroke-width="0.55" textLength="44.4" lengthAdjust="spacingAndGlyphs">100</text>
<text x="1568.3" y="588" font-size="26.5" fill="#151515" stroke="#151515" stroke-width="0.55" textLength="287.3" lengthAdjust="spacingAndGlyphs">Predicted peptide bound</text>
<text x="1629.2" y="619.4" font-size="26.5" fill="#151515" stroke="#151515" stroke-width="0.55" textLength="173" lengthAdjust="spacingAndGlyphs">to b-mNPs (%)</text>
<text transform="translate(1342,393.1) rotate(-90)" font-size="26.5" fill="#151515" stroke="#151515" stroke-width="0.55" textLength="293.4" lengthAdjust="spacingAndGlyphs">Measured peptide bound</text>
<text transform="translate(1373.4,320.7) rotate(-90)" font-size="26.5" fill="#151515" stroke="#151515" stroke-width="0.55" textLength="147.9" lengthAdjust="spacingAndGlyphs">to mNPs (%)</text>
<text x="1486.3" y="54.4" font-size="23.5" fill="#151515" font-style="italic" stroke="#151515" stroke-width="0.55" textLength="7.7" lengthAdjust="spacingAndGlyphs">r</text>
<text x="1498.7" y="54.4" font-size="23.5" fill="#151515" stroke="#151515" stroke-width="0.55" textLength="16.3" lengthAdjust="spacingAndGlyphs">=</text>
<text x="1519.8" y="54.4" font-size="23.5" fill="#151515" stroke="#151515" stroke-width="0.55" textLength="47.7" lengthAdjust="spacingAndGlyphs">0.84</text>
<text x="1481.4" y="90.1" font-size="23.5" fill="#151515" font-style="italic" stroke="#151515" stroke-width="0.55" textLength="13.1" lengthAdjust="spacingAndGlyphs">p</text>
<text x="1499.6" y="90.1" font-size="23.5" fill="#151515" stroke="#151515" stroke-width="0.55" textLength="16.3" lengthAdjust="spacingAndGlyphs">&lt;</text>
<text x="1520.4" y="90.1" font-size="23.5" fill="#151515" stroke="#151515" stroke-width="0.55" textLength="35" lengthAdjust="spacingAndGlyphs">2.2</text>
<text x="1562.3" y="90.1" font-size="23.5" fill="#151515" stroke="#151515" stroke-width="0.55" textLength="15.4" lengthAdjust="spacingAndGlyphs">×</text>
<text x="1582.1" y="90.1" font-size="23.5" fill="#151515" stroke="#151515" stroke-width="0.55" textLength="26.1" lengthAdjust="spacingAndGlyphs">10</text>
<text x="1607.8" y="82.6" font-size="13.5" fill="#151515" stroke="#151515" stroke-width="0.55" textLength="26.3" lengthAdjust="spacingAndGlyphs">−16</text>
<text x="0.8" y="715.3" font-size="28" fill="#151515" font-weight="bold" textLength="16.2" lengthAdjust="spacingAndGlyphs">c</text>
<polygon points="174.1,1002.2 180.7,1004.2 187.2,1006.1 193.8,1008 200.4,1009.9 206.9,1011.7 213.5,1013.4 220.1,1015 226.6,1016.5 233.2,1017.9 239.8,1019.2 246.3,1020.3 252.9,1021.3 259.4,1022.1 266,1022.7 272.6,1023.1 279.1,1023.3 285.7,1023.1 292.3,1022.7 298.8,1021.9 305.4,1020.8 312,1019.3 318.5,1017.5 325.1,1015.4 331.7,1012.9 338.2,1010.1 344.8,1007 351.4,1003.7 357.9,1000.1 364.5,996.3 371.1,992.3 377.6,988.1 384.2,983.7 390.7,979.3 397.3,974.7 403.9,970 410.4,965.2 417,960.3 423.6,955.4 430.1,950.4 436.7,945.4 436.7,1130.7 430.1,1128.7 423.6,1126.9 417,1125.1 410.4,1123.4 403.9,1121.7 397.3,1120.2 390.7,1118.7 384.2,1117.4 377.6,1116.2 371.1,1115.2 364.5,1114.3 357.9,1113.6 351.4,1113.2 344.8,1112.9 338.2,1113 331.7,1113.3 325.1,1114 318.5,1115 312,1116.3 305.4,1118 298.8,1120.1 292.3,1122.4 285.7,1125.1 279.1,1128.1 272.6,1131.4 266,1134.9 259.4,1138.7 252.9,1142.6 246.3,1146.7 239.8,1151 233.2,1155.5 226.6,1160 220.1,1164.7 213.5,1169.4 206.9,1174.2 200.4,1179.2 193.8,1184.1 187.2,1189.2 180.7,1194.3 174.1,1199.4" fill="#bed2ea"/>
<line x1="174.1" y1="1100.8" x2="436.7" y2="1038" stroke="#3a2f31" stroke-width="3.8"/>
<polygon points="247.4,924.2 239.8,937.2 255,937.2" fill="#5b86c4" fill-opacity="0.9" stroke="#2c3f5a" stroke-width="0.8" stroke-linejoin="round"/>
<polygon points="174.1,1147.8 166.5,1160.8 181.7,1160.8" fill="#5b86c4" fill-opacity="0.9" stroke="#2c3f5a" stroke-width="0.8" stroke-linejoin="round"/>
<polygon points="232.6,1089.6 225,1102.6 240.2,1102.6" fill="#5b86c4" fill-opacity="0.9" stroke="#2c3f5a" stroke-width="0.8" stroke-linejoin="round"/>
<polygon points="253.5,1052 245.9,1065 261.1,1065" fill="#5b86c4" fill-opacity="0.9" stroke="#2c3f5a" stroke-width="0.8" stroke-linejoin="round"/>
<polygon points="303.3,1159.2 295.7,1172.2 310.9,1172.2" fill="#5b86c4" fill-opacity="0.9" stroke="#2c3f5a" stroke-width="0.8" stroke-linejoin="round"/>
<polygon points="312.4,1024.6 304.8,1037.6 320,1037.6" fill="#5b86c4" fill-opacity="0.9" stroke="#2c3f5a" stroke-width="0.8" stroke-linejoin="round"/>
<polygon points="325.6,1070.2 318,1083.2 333.2,1083.2" fill="#5b86c4" fill-opacity="0.9" stroke="#2c3f5a" stroke-width="0.8" stroke-linejoin="round"/>
<polygon points="329.5,1089.6 321.9,1102.6 337.1,1102.6" fill="#5b86c4" fill-opacity="0.9" stroke="#2c3f5a" stroke-width="0.8" stroke-linejoin="round"/>
<polygon points="394.3,1107.4 386.7,1120.4 401.9,1120.4" fill="#5b86c4" fill-opacity="0.9" stroke="#2c3f5a" stroke-width="0.8" stroke-linejoin="round"/>
<polygon points="412.1,1005.2 404.5,1018.2 419.7,1018.2" fill="#5b86c4" fill-opacity="0.9" stroke="#2c3f5a" stroke-width="0.8" stroke-linejoin="round"/>
<polygon points="436.7,989.2 429.1,1002.2 444.3,1002.2" fill="#5b86c4" fill-opacity="0.9" stroke="#2c3f5a" stroke-width="0.8" stroke-linejoin="round"/>
<path d="M104.3,743.5 V1273.2 H676.8" fill="none" stroke="#231f20" stroke-width="2.5"/>
<line x1="104.3" y1="1258.4" x2="108.9" y2="1258.4" stroke="#231f20" stroke-width="2.3"/>
<line x1="104.3" y1="1237.6" x2="108.9" y2="1237.6" stroke="#231f20" stroke-width="2.3"/>
<line x1="104.3" y1="1220.6" x2="108.9" y2="1220.6" stroke="#231f20" stroke-width="2.3"/>
<line x1="104.3" y1="1206.2" x2="108.9" y2="1206.2" stroke="#231f20" stroke-width="2.3"/>
<line x1="104.3" y1="1193.8" x2="108.9" y2="1193.8" stroke="#231f20" stroke-width="2.3"/>
<line x1="104.3" y1="1182.8" x2="108.9" y2="1182.8" stroke="#231f20" stroke-width="2.3"/>
<line x1="104.3" y1="1173" x2="113.3" y2="1173" stroke="#231f20" stroke-width="2.3"/>
<line x1="104.3" y1="1108.4" x2="108.9" y2="1108.4" stroke="#231f20" stroke-width="2.3"/>
<line x1="104.3" y1="1070.7" x2="108.9" y2="1070.7" stroke="#231f20" stroke-width="2.3"/>
<line x1="104.3" y1="1043.9" x2="108.9" y2="1043.9" stroke="#231f20" stroke-width="2.3"/>
<line x1="104.3" y1="1023.1" x2="108.9" y2="1023.1" stroke="#231f20" stroke-width="2.3"/>
<line x1="104.3" y1="1006.1" x2="108.9" y2="1006.1" stroke="#231f20" stroke-width="2.3"/>
<line x1="104.3" y1="991.7" x2="108.9" y2="991.7" stroke="#231f20" stroke-width="2.3"/>
<line x1="104.3" y1="979.3" x2="108.9" y2="979.3" stroke="#231f20" stroke-width="2.3"/>
<line x1="104.3" y1="968.3" x2="108.9" y2="968.3" stroke="#231f20" stroke-width="2.3"/>
<line x1="104.3" y1="958.5" x2="113.3" y2="958.5" stroke="#231f20" stroke-width="2.3"/>
<line x1="104.3" y1="893.9" x2="108.9" y2="893.9" stroke="#231f20" stroke-width="2.3"/>
<line x1="104.3" y1="856.2" x2="108.9" y2="856.2" stroke="#231f20" stroke-width="2.3"/>
<line x1="104.3" y1="829.4" x2="108.9" y2="829.4" stroke="#231f20" stroke-width="2.3"/>
<line x1="104.3" y1="808.6" x2="108.9" y2="808.6" stroke="#231f20" stroke-width="2.3"/>
<line x1="104.3" y1="791.6" x2="108.9" y2="791.6" stroke="#231f20" stroke-width="2.3"/>
<line x1="104.3" y1="777.2" x2="108.9" y2="777.2" stroke="#231f20" stroke-width="2.3"/>
<line x1="104.3" y1="764.8" x2="108.9" y2="764.8" stroke="#231f20" stroke-width="2.3"/>
<line x1="104.3" y1="753.8" x2="108.9" y2="753.8" stroke="#231f20" stroke-width="2.3"/>
<line x1="104.3" y1="744" x2="113.3" y2="744" stroke="#231f20" stroke-width="2.3"/>
<line x1="90.8" y1="1237.6" x2="104.3" y2="1237.6" stroke="#231f20" stroke-width="2.5"/>
<text x="74.2" y="1245.8" font-size="21.3" fill="#151515" stroke="#151515" stroke-width="0.55" textLength="12.5" lengthAdjust="spacingAndGlyphs">5</text>
<line x1="90.8" y1="1173" x2="104.3" y2="1173" stroke="#231f20" stroke-width="2.5"/>
<text x="61.6" y="1181.2" font-size="21.3" fill="#151515" stroke="#151515" stroke-width="0.55" textLength="25" lengthAdjust="spacingAndGlyphs">10</text>
<line x1="90.8" y1="1023.1" x2="104.3" y2="1023.1" stroke="#231f20" stroke-width="2.5"/>
<text x="61.6" y="1031.3" font-size="21.3" fill="#151515" stroke="#151515" stroke-width="0.55" textLength="25" lengthAdjust="spacingAndGlyphs">50</text>
<line x1="90.8" y1="958.5" x2="104.3" y2="958.5" stroke="#231f20" stroke-width="2.5"/>
<text x="49.1" y="966.7" font-size="21.3" fill="#151515" stroke="#151515" stroke-width="0.55" textLength="37.6" lengthAdjust="spacingAndGlyphs">100</text>
<line x1="90.8" y1="808.6" x2="104.3" y2="808.6" stroke="#231f20" stroke-width="2.5"/>
<text x="49.1" y="816.8" font-size="21.3" fill="#151515" stroke="#151515" stroke-width="0.55" textLength="37.6" lengthAdjust="spacingAndGlyphs">500</text>
<line x1="90.8" y1="744" x2="104.3" y2="744" stroke="#231f20" stroke-width="2.5"/>
<text x="30.3" y="752.2" font-size="21.3" fill="#151515" stroke="#151515" stroke-width="0.55" textLength="56.3" lengthAdjust="spacingAndGlyphs">1,000</text>
<line x1="116.5" y1="1273.2" x2="116.5" y2="1284.7" stroke="#231f20" stroke-width="2.5"/>
<text x="110.2" y="1305.8" font-size="21.3" fill="#151515" stroke="#151515" stroke-width="0.55" textLength="12.5" lengthAdjust="spacingAndGlyphs">0</text>
<line x1="262.8" y1="1273.2" x2="262.8" y2="1284.7" stroke="#231f20" stroke-width="2.5"/>
<text x="250.2" y="1305.8" font-size="21.3" fill="#151515" stroke="#151515" stroke-width="0.55" textLength="25" lengthAdjust="spacingAndGlyphs">25</text>
<line x1="409.1" y1="1273.2" x2="409.1" y2="1284.7" stroke="#231f20" stroke-width="2.5"/>
<text x="396.6" y="1305.8" font-size="21.3" fill="#151515" stroke="#151515" stroke-width="0.55" textLength="25" lengthAdjust="spacingAndGlyphs">50</text>
<line x1="555.5" y1="1273.2" x2="555.5" y2="1284.7" stroke="#231f20" stroke-width="2.5"/>
<text x="542.9" y="1305.8" font-size="21.3" fill="#151515" stroke="#151515" stroke-width="0.55" textLength="25" lengthAdjust="spacingAndGlyphs">75</text>
<text x="202.7" y="1347.4" font-size="28.8" fill="#151515" stroke="#151515" stroke-width="0.55" textLength="355.2" lengthAdjust="spacingAndGlyphs">Peptide bound to mNPs (%)</text>
<text transform="translate(21,1176.8) rotate(-90)" font-size="28.8" fill="#151515" stroke="#151515" stroke-width="0.55" textLength="339" lengthAdjust="spacingAndGlyphs">Peptide (pMol / 100K cells)</text>
<text x="137.3" y="763.8" font-size="21.5" fill="#151515" font-style="italic" stroke="#151515" stroke-width="0.55" textLength="8.5" lengthAdjust="spacingAndGlyphs">r</text>
<text x="149.5" y="763.8" font-size="21.5" fill="#151515" stroke="#151515" stroke-width="0.55" textLength="17" lengthAdjust="spacingAndGlyphs">=</text>
<text x="171.2" y="763.8" font-size="21.5" fill="#151515" stroke="#151515" stroke-width="0.55" textLength="47.9" lengthAdjust="spacingAndGlyphs">0.28</text>
<text x="133.1" y="799.8" font-size="21.5" fill="#151515" font-style="italic" stroke="#151515" stroke-width="0.55" textLength="14.3" lengthAdjust="spacingAndGlyphs">p</text>
<text x="150.5" y="799.8" font-size="21.5" fill="#151515" stroke="#151515" stroke-width="0.55" textLength="15.9" lengthAdjust="spacingAndGlyphs">=</text>
<text x="172.2" y="799.8" font-size="21.5" fill="#151515" stroke="#151515" stroke-width="0.55" textLength="45.2" lengthAdjust="spacingAndGlyphs">0.41</text>
<rect x="521" y="1223.1" width="143.9" height="38.5" fill="#fff" stroke="#231f20" stroke-width="2"/>
<polygon points="539.4,1236 531.8,1248.8 547,1248.8" fill="#7097cc" stroke="#5a7fb5" stroke-width="0.6"/>
<text x="557.2" y="1250.5" font-size="25" fill="#151515" stroke="#151515" stroke-width="0.55" textLength="103.8" lengthAdjust="spacingAndGlyphs">Non-CPP</text>
<text x="695.5" y="712.4" font-size="28" fill="#151515" font-weight="bold" textLength="20.4" lengthAdjust="spacingAndGlyphs">d</text>
<polygon points="860.2,1097.4 872.4,1090.4 884.5,1083.4 896.7,1076.4 908.8,1069.4 921,1062.4 933.1,1055.4 945.3,1048.3 957.5,1041.3 969.6,1034.2 981.8,1027.1 993.9,1020 1006.1,1012.9 1018.2,1005.7 1030.4,998.5 1042.6,991.3 1054.7,984.1 1066.9,976.8 1079,969.4 1091.2,962 1103.4,954.5 1115.5,946.9 1127.7,939.2 1139.8,931.4 1152,923.5 1164.1,915.4 1176.3,907.3 1188.5,898.9 1200.6,890.5 1212.8,881.9 1224.9,873.2 1237.1,864.4 1249.2,855.4 1261.4,846.4 1273.6,837.3 1285.7,828.2 1297.9,819 1310,809.8 1322.2,800.5 1334.3,791.1 1346.5,781.8 1346.5,827.8 1334.3,835 1322.2,842.1 1310,849.4 1297.9,856.6 1285.7,863.9 1273.6,871.3 1261.4,878.7 1249.2,886.2 1237.1,893.8 1224.9,901.5 1212.8,909.3 1200.6,917.2 1188.5,925.2 1176.3,933.4 1164.1,941.7 1152,950.2 1139.8,958.8 1127.7,967.5 1115.5,976.3 1103.4,985.2 1091.2,994.2 1079,1003.3 1066.9,1012.5 1054.7,1021.7 1042.6,1030.9 1030.4,1040.2 1018.2,1049.5 1006.1,1058.9 993.9,1068.2 981.8,1077.6 969.6,1087 957.5,1096.5 945.3,1105.9 933.1,1115.4 921,1124.9 908.8,1134.4 896.7,1143.8 884.5,1153.3 872.4,1162.9 860.2,1172.4" fill="#f7b3d1"/>
<line x1="860.2" y1="1134.9" x2="1346.5" y2="804.8" stroke="#3a2f31" stroke-width="3.8"/>
<circle cx="1048.6" cy="888.4" r="5.25" fill="#e3478a" fill-opacity="0.78" stroke="#4a2a38" stroke-width="0.9"/>
<circle cx="1000.7" cy="912.4" r="5.25" fill="#e3478a" fill-opacity="0.78" stroke="#4a2a38" stroke-width="0.9"/>
<circle cx="1085.7" cy="932.5" r="5.25" fill="#e3478a" fill-opacity="0.78" stroke="#4a2a38" stroke-width="0.9"/>
<circle cx="1083.9" cy="957.7" r="5.25" fill="#e3478a" fill-opacity="0.78" stroke="#4a2a38" stroke-width="0.9"/>
<circle cx="1073.8" cy="975.3" r="5.25" fill="#e3478a" fill-opacity="0.78" stroke="#4a2a38" stroke-width="0.9"/>
<circle cx="971.4" cy="987.7" r="5.25" fill="#e3478a" fill-opacity="0.78" stroke="#4a2a38" stroke-width="0.9"/>
<circle cx="1031.6" cy="1006.5" r="5.25" fill="#e3478a" fill-opacity="0.78" stroke="#4a2a38" stroke-width="0.9"/>
<circle cx="1050.2" cy="1012.4" r="5.25" fill="#e3478a" fill-opacity="0.78" stroke="#4a2a38" stroke-width="0.9"/>
<circle cx="914.4" cy="1058.8" r="5.25" fill="#e3478a" fill-opacity="0.78" stroke="#4a2a38" stroke-width="0.9"/>
<circle cx="1087.9" cy="1050.4" r="5.25" fill="#e3478a" fill-opacity="0.78" stroke="#4a2a38" stroke-width="0.9"/>
<circle cx="1094.5" cy="1059.2" r="5.25" fill="#e3478a" fill-opacity="0.78" stroke="#4a2a38" stroke-width="0.9"/>
<circle cx="1094.5" cy="1062.1" r="5.25" fill="#e3478a" fill-opacity="0.78" stroke="#4a2a38" stroke-width="0.9"/>
<circle cx="985.1" cy="1071.6" r="5.25" fill="#e3478a" fill-opacity="0.78" stroke="#4a2a38" stroke-width="0.9"/>
<circle cx="995.7" cy="1076" r="5.25" fill="#e3478a" fill-opacity="0.78" stroke="#4a2a38" stroke-width="0.9"/>
<circle cx="908" cy="1092.3" r="5.25" fill="#e3478a" fill-opacity="0.78" stroke="#4a2a38" stroke-width="0.9"/>
<circle cx="885.8" cy="1098" r="5.25" fill="#e3478a" fill-opacity="0.78" stroke="#4a2a38" stroke-width="0.9"/>
<circle cx="860.2" cy="1103.8" r="5.25" fill="#e3478a" fill-opacity="0.78" stroke="#4a2a38" stroke-width="0.9"/>
<circle cx="999.6" cy="1094.1" r="5.25" fill="#e3478a" fill-opacity="0.78" stroke="#4a2a38" stroke-width="0.9"/>
<circle cx="1082.8" cy="1091.2" r="5.25" fill="#e3478a" fill-opacity="0.78" stroke="#4a2a38" stroke-width="0.9"/>
<circle cx="871" cy="1121" r="5.25" fill="#e3478a" fill-opacity="0.78" stroke="#4a2a38" stroke-width="0.9"/>
<circle cx="971.8" cy="1118.8" r="5.25" fill="#e3478a" fill-opacity="0.78" stroke="#4a2a38" stroke-width="0.9"/>
<circle cx="1061.2" cy="1119.2" r="5.25" fill="#e3478a" fill-opacity="0.78" stroke="#4a2a38" stroke-width="0.9"/>
<circle cx="943.6" cy="1130.9" r="5.25" fill="#e3478a" fill-opacity="0.78" stroke="#4a2a38" stroke-width="0.9"/>
<circle cx="1032.1" cy="1135.6" r="5.25" fill="#e3478a" fill-opacity="0.78" stroke="#4a2a38" stroke-width="0.9"/>
<circle cx="975.4" cy="1149.7" r="5.25" fill="#e3478a" fill-opacity="0.78" stroke="#4a2a38" stroke-width="0.9"/>
<circle cx="1275.7" cy="766.6" r="5.25" fill="#e3478a" fill-opacity="0.78" stroke="#4a2a38" stroke-width="0.9"/>
<circle cx="1296.9" cy="769" r="5.25" fill="#e3478a" fill-opacity="0.78" stroke="#4a2a38" stroke-width="0.9"/>
<circle cx="1292.8" cy="780" r="5.25" fill="#e3478a" fill-opacity="0.78" stroke="#4a2a38" stroke-width="0.9"/>
<circle cx="1290.8" cy="791" r="5.25" fill="#e3478a" fill-opacity="0.78" stroke="#4a2a38" stroke-width="0.9"/>
<circle cx="1293.2" cy="804.3" r="5.25" fill="#e3478a" fill-opacity="0.78" stroke="#4a2a38" stroke-width="0.9"/>
<circle cx="1320.4" cy="789.6" r="5.25" fill="#e3478a" fill-opacity="0.78" stroke="#4a2a38" stroke-width="0.9"/>
<circle cx="1336.1" cy="788.6" r="5.25" fill="#e3478a" fill-opacity="0.78" stroke="#4a2a38" stroke-width="0.9"/>
<circle cx="1320.8" cy="804.3" r="5.25" fill="#e3478a" fill-opacity="0.78" stroke="#4a2a38" stroke-width="0.9"/>
<circle cx="1318" cy="813.1" r="5.25" fill="#e3478a" fill-opacity="0.78" stroke="#4a2a38" stroke-width="0.9"/>
<circle cx="1330" cy="813.1" r="5.25" fill="#e3478a" fill-opacity="0.78" stroke="#4a2a38" stroke-width="0.9"/>
<circle cx="1345.6" cy="822.3" r="5.25" fill="#e3478a" fill-opacity="0.78" stroke="#4a2a38" stroke-width="0.9"/>
<circle cx="1346.5" cy="826" r="5.25" fill="#e3478a" fill-opacity="0.78" stroke="#4a2a38" stroke-width="0.9"/>
<circle cx="1324.1" cy="831.9" r="5.25" fill="#e3478a" fill-opacity="0.78" stroke="#4a2a38" stroke-width="0.9"/>
<circle cx="1300.2" cy="827.3" r="5.25" fill="#e3478a" fill-opacity="0.78" stroke="#4a2a38" stroke-width="0.9"/>
<circle cx="1205.8" cy="797.8" r="5.25" fill="#e3478a" fill-opacity="0.78" stroke="#4a2a38" stroke-width="0.9"/>
<circle cx="1186.5" cy="812.9" r="5.25" fill="#e3478a" fill-opacity="0.78" stroke="#4a2a38" stroke-width="0.9"/>
<circle cx="1166.6" cy="819.4" r="5.25" fill="#e3478a" fill-opacity="0.78" stroke="#4a2a38" stroke-width="0.9"/>
<circle cx="1117.1" cy="819" r="5.25" fill="#e3478a" fill-opacity="0.78" stroke="#4a2a38" stroke-width="0.9"/>
<circle cx="1126.3" cy="830" r="5.25" fill="#e3478a" fill-opacity="0.78" stroke="#4a2a38" stroke-width="0.9"/>
<circle cx="1185" cy="832.8" r="5.25" fill="#e3478a" fill-opacity="0.78" stroke="#4a2a38" stroke-width="0.9"/>
<circle cx="1197" cy="834.6" r="5.25" fill="#e3478a" fill-opacity="0.78" stroke="#4a2a38" stroke-width="0.9"/>
<circle cx="1213.5" cy="834.6" r="5.25" fill="#e3478a" fill-opacity="0.78" stroke="#4a2a38" stroke-width="0.9"/>
<circle cx="1216.3" cy="814.8" r="5.25" fill="#e3478a" fill-opacity="0.78" stroke="#4a2a38" stroke-width="0.9"/>
<circle cx="1221.4" cy="815.9" r="5.25" fill="#e3478a" fill-opacity="0.78" stroke="#4a2a38" stroke-width="0.9"/>
<circle cx="1228.8" cy="827.3" r="5.25" fill="#e3478a" fill-opacity="0.78" stroke="#4a2a38" stroke-width="0.9"/>
<circle cx="1245.4" cy="827.3" r="5.25" fill="#e3478a" fill-opacity="0.78" stroke="#4a2a38" stroke-width="0.9"/>
<circle cx="1247.2" cy="828.2" r="5.25" fill="#e3478a" fill-opacity="0.78" stroke="#4a2a38" stroke-width="0.9"/>
<circle cx="1258.6" cy="828.6" r="5.25" fill="#e3478a" fill-opacity="0.78" stroke="#4a2a38" stroke-width="0.9"/>
<circle cx="1246.8" cy="802.4" r="5.25" fill="#e3478a" fill-opacity="0.78" stroke="#4a2a38" stroke-width="0.9"/>
<circle cx="1249.4" cy="803.4" r="5.25" fill="#e3478a" fill-opacity="0.78" stroke="#4a2a38" stroke-width="0.9"/>
<circle cx="1255.5" cy="807.4" r="5.25" fill="#e3478a" fill-opacity="0.78" stroke="#4a2a38" stroke-width="0.9"/>
<circle cx="1265.6" cy="799.1" r="5.25" fill="#e3478a" fill-opacity="0.78" stroke="#4a2a38" stroke-width="0.9"/>
<circle cx="1267.4" cy="813.8" r="5.25" fill="#e3478a" fill-opacity="0.78" stroke="#4a2a38" stroke-width="0.9"/>
<circle cx="1272" cy="809.4" r="5.25" fill="#e3478a" fill-opacity="0.78" stroke="#4a2a38" stroke-width="0.9"/>
<circle cx="1278.5" cy="807" r="5.25" fill="#e3478a" fill-opacity="0.78" stroke="#4a2a38" stroke-width="0.9"/>
<circle cx="1283.4" cy="809.4" r="5.25" fill="#e3478a" fill-opacity="0.78" stroke="#4a2a38" stroke-width="0.9"/>
<circle cx="1274.2" cy="817.7" r="5.25" fill="#e3478a" fill-opacity="0.78" stroke="#4a2a38" stroke-width="0.9"/>
<circle cx="1274.8" cy="822.7" r="5.25" fill="#e3478a" fill-opacity="0.78" stroke="#4a2a38" stroke-width="0.9"/>
<circle cx="1280" cy="821.8" r="5.25" fill="#e3478a" fill-opacity="0.78" stroke="#4a2a38" stroke-width="0.9"/>
<circle cx="1232.5" cy="847.9" r="5.25" fill="#e3478a" fill-opacity="0.78" stroke="#4a2a38" stroke-width="0.9"/>
<circle cx="1246.6" cy="844.8" r="5.25" fill="#e3478a" fill-opacity="0.78" stroke="#4a2a38" stroke-width="0.9"/>
<circle cx="1250" cy="854" r="5.25" fill="#e3478a" fill-opacity="0.78" stroke="#4a2a38" stroke-width="0.9"/>
<circle cx="1253.3" cy="856.2" r="5.25" fill="#e3478a" fill-opacity="0.78" stroke="#4a2a38" stroke-width="0.9"/>
<circle cx="1261.9" cy="857.6" r="5.25" fill="#e3478a" fill-opacity="0.78" stroke="#4a2a38" stroke-width="0.9"/>
<circle cx="1242.2" cy="858.6" r="5.25" fill="#e3478a" fill-opacity="0.78" stroke="#4a2a38" stroke-width="0.9"/>
<circle cx="1272.6" cy="852.7" r="5.25" fill="#e3478a" fill-opacity="0.78" stroke="#4a2a38" stroke-width="0.9"/>
<circle cx="1268.5" cy="864.1" r="5.25" fill="#e3478a" fill-opacity="0.78" stroke="#4a2a38" stroke-width="0.9"/>
<circle cx="1215.9" cy="854.9" r="5.25" fill="#e3478a" fill-opacity="0.78" stroke="#4a2a38" stroke-width="0.9"/>
<circle cx="1206.7" cy="861" r="5.25" fill="#e3478a" fill-opacity="0.78" stroke="#4a2a38" stroke-width="0.9"/>
<circle cx="1209.5" cy="873.8" r="5.25" fill="#e3478a" fill-opacity="0.78" stroke="#4a2a38" stroke-width="0.9"/>
<circle cx="1285.8" cy="867.4" r="5.25" fill="#e3478a" fill-opacity="0.78" stroke="#4a2a38" stroke-width="0.9"/>
<circle cx="1304.8" cy="865.4" r="5.25" fill="#e3478a" fill-opacity="0.78" stroke="#4a2a38" stroke-width="0.9"/>
<circle cx="1294.5" cy="877.9" r="5.25" fill="#e3478a" fill-opacity="0.78" stroke="#4a2a38" stroke-width="0.9"/>
<circle cx="1339.2" cy="873.6" r="5.25" fill="#e3478a" fill-opacity="0.78" stroke="#4a2a38" stroke-width="0.9"/>
<circle cx="1131.6" cy="871.8" r="5.25" fill="#e3478a" fill-opacity="0.78" stroke="#4a2a38" stroke-width="0.9"/>
<circle cx="1145.1" cy="870.9" r="5.25" fill="#e3478a" fill-opacity="0.78" stroke="#4a2a38" stroke-width="0.9"/>
<circle cx="1269.3" cy="884.9" r="5.25" fill="#e3478a" fill-opacity="0.78" stroke="#4a2a38" stroke-width="0.9"/>
<circle cx="1267.8" cy="889.5" r="5.25" fill="#e3478a" fill-opacity="0.78" stroke="#4a2a38" stroke-width="0.9"/>
<circle cx="1268.4" cy="893.5" r="5.25" fill="#e3478a" fill-opacity="0.78" stroke="#4a2a38" stroke-width="0.9"/>
<circle cx="1250" cy="896.6" r="5.25" fill="#e3478a" fill-opacity="0.78" stroke="#4a2a38" stroke-width="0.9"/>
<circle cx="1261.4" cy="900.9" r="5.25" fill="#e3478a" fill-opacity="0.78" stroke="#4a2a38" stroke-width="0.9"/>
<circle cx="1229.3" cy="900.3" r="5.25" fill="#e3478a" fill-opacity="0.78" stroke="#4a2a38" stroke-width="0.9"/>
<circle cx="1342.9" cy="900.5" r="5.25" fill="#e3478a" fill-opacity="0.78" stroke="#4a2a38" stroke-width="0.9"/>
<circle cx="1157.6" cy="898.1" r="5.25" fill="#e3478a" fill-opacity="0.78" stroke="#4a2a38" stroke-width="0.9"/>
<circle cx="1157.6" cy="912.3" r="5.25" fill="#e3478a" fill-opacity="0.78" stroke="#4a2a38" stroke-width="0.9"/>
<circle cx="1185.2" cy="917.4" r="5.25" fill="#e3478a" fill-opacity="0.78" stroke="#4a2a38" stroke-width="0.9"/>
<circle cx="1183.2" cy="921.1" r="5.25" fill="#e3478a" fill-opacity="0.78" stroke="#4a2a38" stroke-width="0.9"/>
<circle cx="1202.5" cy="922.4" r="5.25" fill="#e3478a" fill-opacity="0.78" stroke="#4a2a38" stroke-width="0.9"/>
<circle cx="1213.2" cy="917.8" r="5.25" fill="#e3478a" fill-opacity="0.78" stroke="#4a2a38" stroke-width="0.9"/>
<circle cx="1244.8" cy="925.7" r="5.25" fill="#e3478a" fill-opacity="0.78" stroke="#4a2a38" stroke-width="0.9"/>
<circle cx="1296.9" cy="921.5" r="5.25" fill="#e3478a" fill-opacity="0.78" stroke="#4a2a38" stroke-width="0.9"/>
<circle cx="1338.6" cy="934.5" r="5.25" fill="#e3478a" fill-opacity="0.78" stroke="#4a2a38" stroke-width="0.9"/>
<circle cx="1210.9" cy="939.1" r="5.25" fill="#e3478a" fill-opacity="0.78" stroke="#4a2a38" stroke-width="0.9"/>
<circle cx="1244.8" cy="949.1" r="5.25" fill="#e3478a" fill-opacity="0.78" stroke="#4a2a38" stroke-width="0.9"/>
<circle cx="1167.2" cy="955.7" r="5.25" fill="#e3478a" fill-opacity="0.78" stroke="#4a2a38" stroke-width="0.9"/>
<circle cx="1184.6" cy="963.8" r="5.25" fill="#e3478a" fill-opacity="0.78" stroke="#4a2a38" stroke-width="0.9"/>
<circle cx="1291.4" cy="959.8" r="5.25" fill="#e3478a" fill-opacity="0.78" stroke="#4a2a38" stroke-width="0.9"/>
<circle cx="1330" cy="959.8" r="5.25" fill="#e3478a" fill-opacity="0.78" stroke="#4a2a38" stroke-width="0.9"/>
<circle cx="1116.6" cy="959.8" r="5.25" fill="#e3478a" fill-opacity="0.78" stroke="#4a2a38" stroke-width="0.9"/>
<circle cx="1133.8" cy="1002.5" r="5.25" fill="#e3478a" fill-opacity="0.78" stroke="#4a2a38" stroke-width="0.9"/>
<circle cx="1176.1" cy="1005" r="5.25" fill="#e3478a" fill-opacity="0.78" stroke="#4a2a38" stroke-width="0.9"/>
<circle cx="1215.5" cy="1008" r="5.25" fill="#e3478a" fill-opacity="0.78" stroke="#4a2a38" stroke-width="0.9"/>
<circle cx="1267.3" cy="996.9" r="5.25" fill="#e3478a" fill-opacity="0.78" stroke="#4a2a38" stroke-width="0.9"/>
<circle cx="1241.6" cy="1031.5" r="5.25" fill="#e3478a" fill-opacity="0.78" stroke="#4a2a38" stroke-width="0.9"/>
<circle cx="1125" cy="1114.2" r="5.25" fill="#e3478a" fill-opacity="0.78" stroke="#4a2a38" stroke-width="0.9"/>
<circle cx="1110.4" cy="1132.6" r="5.25" fill="#e3478a" fill-opacity="0.78" stroke="#4a2a38" stroke-width="0.9"/>
<path d="M796.3,741 V1274.4 H1375.8" fill="none" stroke="#231f20" stroke-width="2.5"/>
<line x1="796.3" y1="1255.4" x2="800.9" y2="1255.4" stroke="#231f20" stroke-width="2.3"/>
<line x1="796.3" y1="1234.6" x2="800.9" y2="1234.6" stroke="#231f20" stroke-width="2.3"/>
<line x1="796.3" y1="1217.6" x2="800.9" y2="1217.6" stroke="#231f20" stroke-width="2.3"/>
<line x1="796.3" y1="1203.2" x2="800.9" y2="1203.2" stroke="#231f20" stroke-width="2.3"/>
<line x1="796.3" y1="1190.8" x2="800.9" y2="1190.8" stroke="#231f20" stroke-width="2.3"/>
<line x1="796.3" y1="1179.8" x2="800.9" y2="1179.8" stroke="#231f20" stroke-width="2.3"/>
<line x1="796.3" y1="1170" x2="805.3" y2="1170" stroke="#231f20" stroke-width="2.3"/>
<line x1="796.3" y1="1105.4" x2="800.9" y2="1105.4" stroke="#231f20" stroke-width="2.3"/>
<line x1="796.3" y1="1067.7" x2="800.9" y2="1067.7" stroke="#231f20" stroke-width="2.3"/>
<line x1="796.3" y1="1040.9" x2="800.9" y2="1040.9" stroke="#231f20" stroke-width="2.3"/>
<line x1="796.3" y1="1020.1" x2="800.9" y2="1020.1" stroke="#231f20" stroke-width="2.3"/>
<line x1="796.3" y1="1003.1" x2="800.9" y2="1003.1" stroke="#231f20" stroke-width="2.3"/>
<line x1="796.3" y1="988.7" x2="800.9" y2="988.7" stroke="#231f20" stroke-width="2.3"/>
<line x1="796.3" y1="976.3" x2="800.9" y2="976.3" stroke="#231f20" stroke-width="2.3"/>
<line x1="796.3" y1="965.3" x2="800.9" y2="965.3" stroke="#231f20" stroke-width="2.3"/>
<line x1="796.3" y1="955.5" x2="805.3" y2="955.5" stroke="#231f20" stroke-width="2.3"/>
<line x1="796.3" y1="890.9" x2="800.9" y2="890.9" stroke="#231f20" stroke-width="2.3"/>
<line x1="796.3" y1="853.2" x2="800.9" y2="853.2" stroke="#231f20" stroke-width="2.3"/>
<line x1="796.3" y1="826.4" x2="800.9" y2="826.4" stroke="#231f20" stroke-width="2.3"/>
<line x1="796.3" y1="805.6" x2="800.9" y2="805.6" stroke="#231f20" stroke-width="2.3"/>
<line x1="796.3" y1="788.6" x2="800.9" y2="788.6" stroke="#231f20" stroke-width="2.3"/>
<line x1="796.3" y1="774.2" x2="800.9" y2="774.2" stroke="#231f20" stroke-width="2.3"/>
<line x1="796.3" y1="761.8" x2="800.9" y2="761.8" stroke="#231f20" stroke-width="2.3"/>
<line x1="796.3" y1="750.8" x2="800.9" y2="750.8" stroke="#231f20" stroke-width="2.3"/>
<line x1="796.3" y1="741" x2="805.3" y2="741" stroke="#231f20" stroke-width="2.3"/>
<line x1="782.8" y1="1234.6" x2="796.3" y2="1234.6" stroke="#231f20" stroke-width="2.5"/>
<text x="766.2" y="1242.8" font-size="21.3" fill="#151515" stroke="#151515" stroke-width="0.55" textLength="12.5" lengthAdjust="spacingAndGlyphs">5</text>
<line x1="782.8" y1="1170" x2="796.3" y2="1170" stroke="#231f20" stroke-width="2.5"/>
<text x="753.6" y="1178.2" font-size="21.3" fill="#151515" stroke="#151515" stroke-width="0.55" textLength="25" lengthAdjust="spacingAndGlyphs">10</text>
<line x1="782.8" y1="1020.1" x2="796.3" y2="1020.1" stroke="#231f20" stroke-width="2.5"/>
<text x="753.6" y="1028.3" font-size="21.3" fill="#151515" stroke="#151515" stroke-width="0.55" textLength="25" lengthAdjust="spacingAndGlyphs">50</text>
<line x1="782.8" y1="955.5" x2="796.3" y2="955.5" stroke="#231f20" stroke-width="2.5"/>
<text x="741.1" y="963.7" font-size="21.3" fill="#151515" stroke="#151515" stroke-width="0.55" textLength="37.6" lengthAdjust="spacingAndGlyphs">100</text>
<line x1="782.8" y1="805.6" x2="796.3" y2="805.6" stroke="#231f20" stroke-width="2.5"/>
<text x="741.1" y="813.8" font-size="21.3" fill="#151515" stroke="#151515" stroke-width="0.55" textLength="37.6" lengthAdjust="spacingAndGlyphs">500</text>
<line x1="782.8" y1="741" x2="796.3" y2="741" stroke="#231f20" stroke-width="2.5"/>
<text x="722.3" y="749.2" font-size="21.3" fill="#151515" stroke="#151515" stroke-width="0.55" textLength="56.3" lengthAdjust="spacingAndGlyphs">1,000</text>
<line x1="813.2" y1="1274.4" x2="813.2" y2="1286" stroke="#231f20" stroke-width="2.5"/>
<text x="806.9" y="1308.4" font-size="21.3" fill="#151515" stroke="#151515" stroke-width="0.55" textLength="12.5" lengthAdjust="spacingAndGlyphs">0</text>
<line x1="959.5" y1="1274.4" x2="959.5" y2="1286" stroke="#231f20" stroke-width="2.5"/>
<text x="946.9" y="1308.4" font-size="21.3" fill="#151515" stroke="#151515" stroke-width="0.55" textLength="25" lengthAdjust="spacingAndGlyphs">25</text>
<line x1="1105.8" y1="1274.4" x2="1105.8" y2="1286" stroke="#231f20" stroke-width="2.5"/>
<text x="1093.2" y="1308.4" font-size="21.3" fill="#151515" stroke="#151515" stroke-width="0.55" textLength="25" lengthAdjust="spacingAndGlyphs">50</text>
<line x1="1252.1" y1="1274.4" x2="1252.1" y2="1286" stroke="#231f20" stroke-width="2.5"/>
<text x="1239.5" y="1308.4" font-size="21.3" fill="#151515" stroke="#151515" stroke-width="0.55" textLength="25" lengthAdjust="spacingAndGlyphs">75</text>
<text x="900.3" y="1352.6" font-size="28.8" fill="#151515" stroke="#151515" stroke-width="0.55" textLength="352.8" lengthAdjust="spacingAndGlyphs">Peptide bound to mNPs (%)</text>
<text transform="translate(713,1174.8) rotate(-90)" font-size="28.8" fill="#151515" stroke="#151515" stroke-width="0.55" textLength="339" lengthAdjust="spacingAndGlyphs">Peptide (pMol / 100K cells)</text>
<text x="831.1" y="761.3" font-size="23" fill="#151515" font-style="italic" stroke="#151515" stroke-width="0.55" textLength="7.7" lengthAdjust="spacingAndGlyphs">r</text>
<text x="843.7" y="761.3" font-size="23" fill="#151515" stroke="#151515" stroke-width="0.55" textLength="15.5" lengthAdjust="spacingAndGlyphs">=</text>
<text x="864.9" y="761.3" font-size="23" fill="#151515" stroke="#151515" stroke-width="0.55" textLength="47.9" lengthAdjust="spacingAndGlyphs">0.77</text>
<text x="825.6" y="796.6" font-size="23" fill="#151515" font-style="italic" stroke="#151515" stroke-width="0.55" textLength="13.9" lengthAdjust="spacingAndGlyphs">p</text>
<text x="843.6" y="796.6" font-size="23" fill="#151515" stroke="#151515" stroke-width="0.55" textLength="16.5" lengthAdjust="spacingAndGlyphs">&lt;</text>
<text x="864.6" y="796.6" font-size="23" fill="#151515" stroke="#151515" stroke-width="0.55" textLength="35.5" lengthAdjust="spacingAndGlyphs">2.2</text>
<text x="905.7" y="796.6" font-size="23" fill="#151515" stroke="#151515" stroke-width="0.55" textLength="15.7" lengthAdjust="spacingAndGlyphs">×</text>
<text x="925.7" y="796.6" font-size="23" fill="#151515" stroke="#151515" stroke-width="0.55" textLength="27.6" lengthAdjust="spacingAndGlyphs">10</text>
<text x="953.3" y="789.4" font-size="13.5" fill="#151515" stroke="#151515" stroke-width="0.55" textLength="25.4" lengthAdjust="spacingAndGlyphs">−16</text>
<rect x="1272.6" y="1226.2" width="88.4" height="38.4" fill="#fff" stroke="#231f20" stroke-width="2"/>
<circle cx="1290.6" cy="1245.3" r="5.2" fill="#e8659b" stroke="#6a3a4a" stroke-width="0.7"/>
<text x="1304.5" y="1253.4" font-size="25" fill="#151515" stroke="#151515" stroke-width="0.55" textLength="50.5" lengthAdjust="spacingAndGlyphs">CPP</text>
<text x="1400.4" y="714" font-size="27" fill="#151515" font-weight="bold" textLength="17.1" lengthAdjust="spacingAndGlyphs">e</text>
<rect x="1645.7" y="934" width="6.6" height="82" fill="#a2c2e6"/>
<rect x="1645.7" y="1108" width="6.6" height="39" fill="#a2c2e6"/>
<rect x="1556.9" y="1015.8" width="183.7" height="93" fill="none" stroke="#a2c2e6" stroke-width="5.9" stroke-linejoin="round"/>
<rect x="1554" y="1073" width="189.5" height="12" fill="#a2c2e6"/>
<rect x="1890.1" y="776" width="6.2" height="52" fill="#f09bc2"/>
<rect x="1890.1" y="964" width="6.2" height="181.5" fill="#f09bc2"/>
<rect x="1801.7" y="827.7" width="183.1" height="136.6" fill="none" stroke="#f09bc2" stroke-width="5.9" stroke-linejoin="round"/>
<rect x="1798.8" y="873" width="188.9" height="12.4" fill="#f09bc2"/>
<polygon points="1648.5,922.4 1640.9,935.4 1656.1,935.4" fill="#5b86c4" fill-opacity="0.9" stroke="#2c3f5a" stroke-width="0.8" stroke-linejoin="round"/>
<polygon points="1648.5,967.9 1640.9,980.9 1656.1,980.9" fill="#5b86c4" fill-opacity="0.9" stroke="#2c3f5a" stroke-width="0.8" stroke-linejoin="round"/>
<polygon points="1648.5,987.3 1640.9,1000.3 1656.1,1000.3" fill="#5b86c4" fill-opacity="0.9" stroke="#2c3f5a" stroke-width="0.8" stroke-linejoin="round"/>
<polygon points="1648.5,1002.8 1640.9,1015.8 1656.1,1015.8" fill="#5b86c4" fill-opacity="0.9" stroke="#2c3f5a" stroke-width="0.8" stroke-linejoin="round"/>
<polygon points="1648.5,1021.8 1640.9,1034.8 1656.1,1034.8" fill="#5b86c4" fill-opacity="0.9" stroke="#2c3f5a" stroke-width="0.8" stroke-linejoin="round"/>
<polygon points="1648.5,1049.7 1640.9,1062.7 1656.1,1062.7" fill="#5b86c4" fill-opacity="0.9" stroke="#2c3f5a" stroke-width="0.8" stroke-linejoin="round"/>
<polygon points="1648.5,1067.7 1640.9,1080.7 1656.1,1080.7" fill="#5b86c4" fill-opacity="0.9" stroke="#2c3f5a" stroke-width="0.8" stroke-linejoin="round"/>
<polygon points="1656.8,1073.1 1649.2,1086.1 1664.4,1086.1" fill="#5b86c4" fill-opacity="0.9" stroke="#2c3f5a" stroke-width="0.8" stroke-linejoin="round"/>
<polygon points="1648.5,1086.5 1640.9,1099.5 1656.1,1099.5" fill="#5b86c4" fill-opacity="0.9" stroke="#2c3f5a" stroke-width="0.8" stroke-linejoin="round"/>
<polygon points="1658.4,1086.5 1650.8,1099.5 1666,1099.5" fill="#5b86c4" fill-opacity="0.9" stroke="#2c3f5a" stroke-width="0.8" stroke-linejoin="round"/>
<polygon points="1648.5,1104.7 1640.9,1117.7 1656.1,1117.7" fill="#5b86c4" fill-opacity="0.9" stroke="#2c3f5a" stroke-width="0.8" stroke-linejoin="round"/>
<polygon points="1648.5,1133.6 1640.9,1146.6 1656.1,1146.6" fill="#5b86c4" fill-opacity="0.9" stroke="#2c3f5a" stroke-width="0.8" stroke-linejoin="round"/>
<polygon points="1648.5,1144.9 1640.9,1157.9 1656.1,1157.9" fill="#5b86c4" fill-opacity="0.9" stroke="#2c3f5a" stroke-width="0.8" stroke-linejoin="round"/>
<polygon points="1648.5,1156.8 1640.9,1169.8 1656.1,1169.8" fill="#5b86c4" fill-opacity="0.9" stroke="#2c3f5a" stroke-width="0.8" stroke-linejoin="round"/>
<circle cx="1893.2" cy="770.6" r="5.25" fill="#e3478a" fill-opacity="0.78" stroke="#4a2a38" stroke-width="0.9"/>
<circle cx="1902.6" cy="767.8" r="5.25" fill="#e3478a" fill-opacity="0.78" stroke="#4a2a38" stroke-width="0.9"/>
<circle cx="1893.2" cy="781.3" r="5.25" fill="#e3478a" fill-opacity="0.78" stroke="#4a2a38" stroke-width="0.9"/>
<circle cx="1878.9" cy="792" r="5.25" fill="#e3478a" fill-opacity="0.78" stroke="#4a2a38" stroke-width="0.9"/>
<circle cx="1889" cy="791" r="5.25" fill="#e3478a" fill-opacity="0.78" stroke="#4a2a38" stroke-width="0.9"/>
<circle cx="1898.8" cy="789.8" r="5.25" fill="#e3478a" fill-opacity="0.78" stroke="#4a2a38" stroke-width="0.9"/>
<circle cx="1893.2" cy="800.3" r="5.25" fill="#e3478a" fill-opacity="0.78" stroke="#4a2a38" stroke-width="0.9"/>
<circle cx="1903.1" cy="799.1" r="5.25" fill="#e3478a" fill-opacity="0.78" stroke="#4a2a38" stroke-width="0.9"/>
<circle cx="1878.4" cy="803.3" r="5.25" fill="#e3478a" fill-opacity="0.78" stroke="#4a2a38" stroke-width="0.9"/>
<circle cx="1887.3" cy="808.1" r="5.25" fill="#e3478a" fill-opacity="0.78" stroke="#4a2a38" stroke-width="0.9"/>
<circle cx="1871.6" cy="810.6" r="5.25" fill="#e3478a" fill-opacity="0.78" stroke="#4a2a38" stroke-width="0.9"/>
<circle cx="1857.4" cy="808.1" r="5.25" fill="#e3478a" fill-opacity="0.78" stroke="#4a2a38" stroke-width="0.9"/>
<circle cx="1847.5" cy="811.3" r="5.25" fill="#e3478a" fill-opacity="0.78" stroke="#4a2a38" stroke-width="0.9"/>
<circle cx="1863.1" cy="816.4" r="5.25" fill="#e3478a" fill-opacity="0.78" stroke="#4a2a38" stroke-width="0.9"/>
<circle cx="1854" cy="819.9" r="5.25" fill="#e3478a" fill-opacity="0.78" stroke="#4a2a38" stroke-width="0.9"/>
<circle cx="1882.2" cy="816.9" r="5.25" fill="#e3478a" fill-opacity="0.78" stroke="#4a2a38" stroke-width="0.9"/>
<circle cx="1896.6" cy="814" r="5.25" fill="#e3478a" fill-opacity="0.78" stroke="#4a2a38" stroke-width="0.9"/>
<circle cx="1906.5" cy="814.8" r="5.25" fill="#e3478a" fill-opacity="0.78" stroke="#4a2a38" stroke-width="0.9"/>
<circle cx="1911" cy="805" r="5.25" fill="#e3478a" fill-opacity="0.78" stroke="#4a2a38" stroke-width="0.9"/>
<circle cx="1921.2" cy="805" r="5.25" fill="#e3478a" fill-opacity="0.78" stroke="#4a2a38" stroke-width="0.9"/>
<circle cx="1930.8" cy="805" r="5.25" fill="#e3478a" fill-opacity="0.78" stroke="#4a2a38" stroke-width="0.9"/>
<circle cx="1916.1" cy="814" r="5.25" fill="#e3478a" fill-opacity="0.78" stroke="#4a2a38" stroke-width="0.9"/>
<circle cx="1926.3" cy="814.3" r="5.25" fill="#e3478a" fill-opacity="0.78" stroke="#4a2a38" stroke-width="0.9"/>
<circle cx="1935.2" cy="819.4" r="5.25" fill="#e3478a" fill-opacity="0.78" stroke="#4a2a38" stroke-width="0.9"/>
<circle cx="1944.4" cy="819.7" r="5.25" fill="#e3478a" fill-opacity="0.78" stroke="#4a2a38" stroke-width="0.9"/>
<circle cx="1893.6" cy="829.6" r="5.25" fill="#e3478a" fill-opacity="0.78" stroke="#4a2a38" stroke-width="0.9"/>
<circle cx="1903.1" cy="830.5" r="5.25" fill="#e3478a" fill-opacity="0.78" stroke="#4a2a38" stroke-width="0.9"/>
<circle cx="1921.2" cy="829.6" r="5.25" fill="#e3478a" fill-opacity="0.78" stroke="#4a2a38" stroke-width="0.9"/>
<circle cx="1837.4" cy="828.2" r="5.25" fill="#e3478a" fill-opacity="0.78" stroke="#4a2a38" stroke-width="0.9"/>
<circle cx="1847.2" cy="828.2" r="5.25" fill="#e3478a" fill-opacity="0.78" stroke="#4a2a38" stroke-width="0.9"/>
<circle cx="1865.8" cy="831.2" r="5.25" fill="#e3478a" fill-opacity="0.78" stroke="#4a2a38" stroke-width="0.9"/>
<circle cx="1875.5" cy="828.7" r="5.25" fill="#e3478a" fill-opacity="0.78" stroke="#4a2a38" stroke-width="0.9"/>
<circle cx="1885.1" cy="829.6" r="5.25" fill="#e3478a" fill-opacity="0.78" stroke="#4a2a38" stroke-width="0.9"/>
<circle cx="1929.3" cy="828.2" r="5.25" fill="#e3478a" fill-opacity="0.78" stroke="#4a2a38" stroke-width="0.9"/>
<circle cx="1939.5" cy="829.6" r="5.25" fill="#e3478a" fill-opacity="0.78" stroke="#4a2a38" stroke-width="0.9"/>
<circle cx="1950.8" cy="828.7" r="5.25" fill="#e3478a" fill-opacity="0.78" stroke="#4a2a38" stroke-width="0.9"/>
<circle cx="1856.9" cy="835.5" r="5.25" fill="#e3478a" fill-opacity="0.78" stroke="#4a2a38" stroke-width="0.9"/>
<circle cx="1897" cy="833.3" r="5.25" fill="#e3478a" fill-opacity="0.78" stroke="#4a2a38" stroke-width="0.9"/>
<circle cx="1906.8" cy="833.8" r="5.25" fill="#e3478a" fill-opacity="0.78" stroke="#4a2a38" stroke-width="0.9"/>
<circle cx="1916.6" cy="835.8" r="5.25" fill="#e3478a" fill-opacity="0.78" stroke="#4a2a38" stroke-width="0.9"/>
<circle cx="1892.7" cy="848.5" r="5.25" fill="#e3478a" fill-opacity="0.78" stroke="#4a2a38" stroke-width="0.9"/>
<circle cx="1902.1" cy="846" r="5.25" fill="#e3478a" fill-opacity="0.78" stroke="#4a2a38" stroke-width="0.9"/>
<circle cx="1866.2" cy="854.1" r="5.25" fill="#e3478a" fill-opacity="0.78" stroke="#4a2a38" stroke-width="0.9"/>
<circle cx="1876" cy="857" r="5.25" fill="#e3478a" fill-opacity="0.78" stroke="#4a2a38" stroke-width="0.9"/>
<circle cx="1884.4" cy="861.7" r="5.25" fill="#e3478a" fill-opacity="0.78" stroke="#4a2a38" stroke-width="0.9"/>
<circle cx="1869.6" cy="865.6" r="5.25" fill="#e3478a" fill-opacity="0.78" stroke="#4a2a38" stroke-width="0.9"/>
<circle cx="1893.2" cy="866.5" r="5.25" fill="#e3478a" fill-opacity="0.78" stroke="#4a2a38" stroke-width="0.9"/>
<circle cx="1900.4" cy="858.8" r="5.25" fill="#e3478a" fill-opacity="0.78" stroke="#4a2a38" stroke-width="0.9"/>
<circle cx="1910.2" cy="858.8" r="5.25" fill="#e3478a" fill-opacity="0.78" stroke="#4a2a38" stroke-width="0.9"/>
<circle cx="1919.8" cy="856.1" r="5.25" fill="#e3478a" fill-opacity="0.78" stroke="#4a2a38" stroke-width="0.9"/>
<circle cx="1929.3" cy="855.3" r="5.25" fill="#e3478a" fill-opacity="0.78" stroke="#4a2a38" stroke-width="0.9"/>
<circle cx="1906.5" cy="868.5" r="5.25" fill="#e3478a" fill-opacity="0.78" stroke="#4a2a38" stroke-width="0.9"/>
<circle cx="1878.4" cy="872.2" r="5.25" fill="#e3478a" fill-opacity="0.78" stroke="#4a2a38" stroke-width="0.9"/>
<circle cx="1887.8" cy="874.9" r="5.25" fill="#e3478a" fill-opacity="0.78" stroke="#4a2a38" stroke-width="0.9"/>
<circle cx="1898" cy="874.9" r="5.25" fill="#e3478a" fill-opacity="0.78" stroke="#4a2a38" stroke-width="0.9"/>
<circle cx="1915.6" cy="873.1" r="5.25" fill="#e3478a" fill-opacity="0.78" stroke="#4a2a38" stroke-width="0.9"/>
<circle cx="1907.6" cy="879.5" r="5.25" fill="#e3478a" fill-opacity="0.78" stroke="#4a2a38" stroke-width="0.9"/>
<circle cx="1883.6" cy="889.1" r="5.25" fill="#e3478a" fill-opacity="0.78" stroke="#4a2a38" stroke-width="0.9"/>
<circle cx="1892.9" cy="886.3" r="5.25" fill="#e3478a" fill-opacity="0.78" stroke="#4a2a38" stroke-width="0.9"/>
<circle cx="1902.2" cy="890.5" r="5.25" fill="#e3478a" fill-opacity="0.78" stroke="#4a2a38" stroke-width="0.9"/>
<circle cx="1911.4" cy="894.7" r="5.25" fill="#e3478a" fill-opacity="0.78" stroke="#4a2a38" stroke-width="0.9"/>
<circle cx="1864.5" cy="898.1" r="5.25" fill="#e3478a" fill-opacity="0.78" stroke="#4a2a38" stroke-width="0.9"/>
<circle cx="1874.1" cy="898.1" r="5.25" fill="#e3478a" fill-opacity="0.78" stroke="#4a2a38" stroke-width="0.9"/>
<circle cx="1883.6" cy="901.8" r="5.25" fill="#e3478a" fill-opacity="0.78" stroke="#4a2a38" stroke-width="0.9"/>
<circle cx="1893.2" cy="899.3" r="5.25" fill="#e3478a" fill-opacity="0.78" stroke="#4a2a38" stroke-width="0.9"/>
<circle cx="1902.6" cy="901.8" r="5.25" fill="#e3478a" fill-opacity="0.78" stroke="#4a2a38" stroke-width="0.9"/>
<circle cx="1918.1" cy="902" r="5.25" fill="#e3478a" fill-opacity="0.78" stroke="#4a2a38" stroke-width="0.9"/>
<circle cx="1888.2" cy="913" r="5.25" fill="#e3478a" fill-opacity="0.78" stroke="#4a2a38" stroke-width="0.9"/>
<circle cx="1897.8" cy="913" r="5.25" fill="#e3478a" fill-opacity="0.78" stroke="#4a2a38" stroke-width="0.9"/>
<circle cx="1879.2" cy="917.6" r="5.25" fill="#e3478a" fill-opacity="0.78" stroke="#4a2a38" stroke-width="0.9"/>
<circle cx="1870.4" cy="923.2" r="5.25" fill="#e3478a" fill-opacity="0.78" stroke="#4a2a38" stroke-width="0.9"/>
<circle cx="1893.2" cy="922.3" r="5.25" fill="#e3478a" fill-opacity="0.78" stroke="#4a2a38" stroke-width="0.9"/>
<circle cx="1906.5" cy="918.8" r="5.25" fill="#e3478a" fill-opacity="0.78" stroke="#4a2a38" stroke-width="0.9"/>
<circle cx="1915.6" cy="922.6" r="5.25" fill="#e3478a" fill-opacity="0.78" stroke="#4a2a38" stroke-width="0.9"/>
<circle cx="1884.4" cy="927.2" r="5.25" fill="#e3478a" fill-opacity="0.78" stroke="#4a2a38" stroke-width="0.9"/>
<circle cx="1893.2" cy="935.7" r="5.25" fill="#e3478a" fill-opacity="0.78" stroke="#4a2a38" stroke-width="0.9"/>
<circle cx="1902.9" cy="933.3" r="5.25" fill="#e3478a" fill-opacity="0.78" stroke="#4a2a38" stroke-width="0.9"/>
<circle cx="1883.9" cy="939.9" r="5.25" fill="#e3478a" fill-opacity="0.78" stroke="#4a2a38" stroke-width="0.9"/>
<circle cx="1898" cy="949.7" r="5.25" fill="#e3478a" fill-opacity="0.78" stroke="#4a2a38" stroke-width="0.9"/>
<circle cx="1873.8" cy="960.7" r="5.25" fill="#e3478a" fill-opacity="0.78" stroke="#4a2a38" stroke-width="0.9"/>
<circle cx="1883.6" cy="960.7" r="5.25" fill="#e3478a" fill-opacity="0.78" stroke="#4a2a38" stroke-width="0.9"/>
<circle cx="1893.6" cy="958.7" r="5.25" fill="#e3478a" fill-opacity="0.78" stroke="#4a2a38" stroke-width="0.9"/>
<circle cx="1907.3" cy="956.2" r="5.25" fill="#e3478a" fill-opacity="0.78" stroke="#4a2a38" stroke-width="0.9"/>
<circle cx="1916.6" cy="960.7" r="5.25" fill="#e3478a" fill-opacity="0.78" stroke="#4a2a38" stroke-width="0.9"/>
<circle cx="1901.4" cy="964.6" r="5.25" fill="#e3478a" fill-opacity="0.78" stroke="#4a2a38" stroke-width="0.9"/>
<circle cx="1893.2" cy="975.6" r="5.25" fill="#e3478a" fill-opacity="0.78" stroke="#4a2a38" stroke-width="0.9"/>
<circle cx="1897.2" cy="988.3" r="5.25" fill="#e3478a" fill-opacity="0.78" stroke="#4a2a38" stroke-width="0.9"/>
<circle cx="1893.1" cy="997.6" r="5.25" fill="#e3478a" fill-opacity="0.78" stroke="#4a2a38" stroke-width="0.9"/>
<circle cx="1884.9" cy="1003" r="5.25" fill="#e3478a" fill-opacity="0.78" stroke="#4a2a38" stroke-width="0.9"/>
<circle cx="1876.7" cy="1009" r="5.25" fill="#e3478a" fill-opacity="0.78" stroke="#4a2a38" stroke-width="0.9"/>
<circle cx="1899.9" cy="1005.9" r="5.25" fill="#e3478a" fill-opacity="0.78" stroke="#4a2a38" stroke-width="0.9"/>
<circle cx="1909.6" cy="1007.1" r="5.25" fill="#e3478a" fill-opacity="0.78" stroke="#4a2a38" stroke-width="0.9"/>
<circle cx="1893.1" cy="1013.3" r="5.25" fill="#e3478a" fill-opacity="0.78" stroke="#4a2a38" stroke-width="0.9"/>
<circle cx="1893.1" cy="1032.2" r="5.25" fill="#e3478a" fill-opacity="0.78" stroke="#4a2a38" stroke-width="0.9"/>
<circle cx="1897.6" cy="1050.7" r="5.25" fill="#e3478a" fill-opacity="0.78" stroke="#4a2a38" stroke-width="0.9"/>
<circle cx="1883.3" cy="1062.8" r="5.25" fill="#e3478a" fill-opacity="0.78" stroke="#4a2a38" stroke-width="0.9"/>
<circle cx="1893.1" cy="1060.2" r="5.25" fill="#e3478a" fill-opacity="0.78" stroke="#4a2a38" stroke-width="0.9"/>
<circle cx="1903.1" cy="1059.7" r="5.25" fill="#e3478a" fill-opacity="0.78" stroke="#4a2a38" stroke-width="0.9"/>
<circle cx="1893.1" cy="1072.5" r="5.25" fill="#e3478a" fill-opacity="0.78" stroke="#4a2a38" stroke-width="0.9"/>
<circle cx="1901.9" cy="1077" r="5.25" fill="#e3478a" fill-opacity="0.78" stroke="#4a2a38" stroke-width="0.9"/>
<circle cx="1875.9" cy="1095" r="5.25" fill="#e3478a" fill-opacity="0.78" stroke="#4a2a38" stroke-width="0.9"/>
<circle cx="1884.9" cy="1098.7" r="5.25" fill="#e3478a" fill-opacity="0.78" stroke="#4a2a38" stroke-width="0.9"/>
<circle cx="1893.1" cy="1091.7" r="5.25" fill="#e3478a" fill-opacity="0.78" stroke="#4a2a38" stroke-width="0.9"/>
<circle cx="1903.1" cy="1093.3" r="5.25" fill="#e3478a" fill-opacity="0.78" stroke="#4a2a38" stroke-width="0.9"/>
<circle cx="1893.1" cy="1104.5" r="5.25" fill="#e3478a" fill-opacity="0.78" stroke="#4a2a38" stroke-width="0.9"/>
<circle cx="1893.1" cy="1114.6" r="5.25" fill="#e3478a" fill-opacity="0.78" stroke="#4a2a38" stroke-width="0.9"/>
<circle cx="1881.8" cy="1121.5" r="5.25" fill="#e3478a" fill-opacity="0.78" stroke="#4a2a38" stroke-width="0.9"/>
<circle cx="1901.4" cy="1120" r="5.25" fill="#e3478a" fill-opacity="0.78" stroke="#4a2a38" stroke-width="0.9"/>
<circle cx="1911.5" cy="1119.2" r="5.25" fill="#e3478a" fill-opacity="0.78" stroke="#4a2a38" stroke-width="0.9"/>
<circle cx="1884.1" cy="1131.6" r="5.25" fill="#e3478a" fill-opacity="0.78" stroke="#4a2a38" stroke-width="0.9"/>
<circle cx="1893.1" cy="1136.2" r="5.25" fill="#e3478a" fill-opacity="0.78" stroke="#4a2a38" stroke-width="0.9"/>
<circle cx="1902.7" cy="1132.8" r="5.25" fill="#e3478a" fill-opacity="0.78" stroke="#4a2a38" stroke-width="0.9"/>
<circle cx="1893.1" cy="1150.1" r="5.25" fill="#e3478a" fill-opacity="0.78" stroke="#4a2a38" stroke-width="0.9"/>
<path d="M1504.3,742.8 V1275 H1997" fill="none" stroke="#231f20" stroke-width="2.5"/>
<line x1="1504.3" y1="1255.9" x2="1508.9" y2="1255.9" stroke="#231f20" stroke-width="2.3"/>
<line x1="1504.3" y1="1235.1" x2="1508.9" y2="1235.1" stroke="#231f20" stroke-width="2.3"/>
<line x1="1504.3" y1="1218.2" x2="1508.9" y2="1218.2" stroke="#231f20" stroke-width="2.3"/>
<line x1="1504.3" y1="1203.8" x2="1508.9" y2="1203.8" stroke="#231f20" stroke-width="2.3"/>
<line x1="1504.3" y1="1191.4" x2="1508.9" y2="1191.4" stroke="#231f20" stroke-width="2.3"/>
<line x1="1504.3" y1="1180.4" x2="1508.9" y2="1180.4" stroke="#231f20" stroke-width="2.3"/>
<line x1="1504.3" y1="1170.6" x2="1513.3" y2="1170.6" stroke="#231f20" stroke-width="2.3"/>
<line x1="1504.3" y1="1106.1" x2="1508.9" y2="1106.1" stroke="#231f20" stroke-width="2.3"/>
<line x1="1504.3" y1="1068.3" x2="1508.9" y2="1068.3" stroke="#231f20" stroke-width="2.3"/>
<line x1="1504.3" y1="1041.5" x2="1508.9" y2="1041.5" stroke="#231f20" stroke-width="2.3"/>
<line x1="1504.3" y1="1020.7" x2="1508.9" y2="1020.7" stroke="#231f20" stroke-width="2.3"/>
<line x1="1504.3" y1="1003.8" x2="1508.9" y2="1003.8" stroke="#231f20" stroke-width="2.3"/>
<line x1="1504.3" y1="989.4" x2="1508.9" y2="989.4" stroke="#231f20" stroke-width="2.3"/>
<line x1="1504.3" y1="977" x2="1508.9" y2="977" stroke="#231f20" stroke-width="2.3"/>
<line x1="1504.3" y1="966" x2="1508.9" y2="966" stroke="#231f20" stroke-width="2.3"/>
<line x1="1504.3" y1="956.2" x2="1513.3" y2="956.2" stroke="#231f20" stroke-width="2.3"/>
<line x1="1504.3" y1="891.7" x2="1508.9" y2="891.7" stroke="#231f20" stroke-width="2.3"/>
<line x1="1504.3" y1="853.9" x2="1508.9" y2="853.9" stroke="#231f20" stroke-width="2.3"/>
<line x1="1504.3" y1="827.1" x2="1508.9" y2="827.1" stroke="#231f20" stroke-width="2.3"/>
<line x1="1504.3" y1="806.3" x2="1508.9" y2="806.3" stroke="#231f20" stroke-width="2.3"/>
<line x1="1504.3" y1="789.4" x2="1508.9" y2="789.4" stroke="#231f20" stroke-width="2.3"/>
<line x1="1504.3" y1="775" x2="1508.9" y2="775" stroke="#231f20" stroke-width="2.3"/>
<line x1="1504.3" y1="762.6" x2="1508.9" y2="762.6" stroke="#231f20" stroke-width="2.3"/>
<line x1="1504.3" y1="751.6" x2="1508.9" y2="751.6" stroke="#231f20" stroke-width="2.3"/>
<line x1="1504.3" y1="741.8" x2="1513.3" y2="741.8" stroke="#231f20" stroke-width="2.3"/>
<line x1="1490.8" y1="1235.1" x2="1504.3" y2="1235.1" stroke="#231f20" stroke-width="2.5"/>
<text x="1474.2" y="1243.3" font-size="21.3" fill="#151515" stroke="#151515" stroke-width="0.55" textLength="12.5" lengthAdjust="spacingAndGlyphs">5</text>
<line x1="1490.8" y1="1170.6" x2="1504.3" y2="1170.6" stroke="#231f20" stroke-width="2.5"/>
<text x="1461.6" y="1178.8" font-size="21.3" fill="#151515" stroke="#151515" stroke-width="0.55" textLength="25" lengthAdjust="spacingAndGlyphs">10</text>
<line x1="1490.8" y1="1020.7" x2="1504.3" y2="1020.7" stroke="#231f20" stroke-width="2.5"/>
<text x="1461.6" y="1028.9" font-size="21.3" fill="#151515" stroke="#151515" stroke-width="0.55" textLength="25" lengthAdjust="spacingAndGlyphs">50</text>
<line x1="1490.8" y1="956.2" x2="1504.3" y2="956.2" stroke="#231f20" stroke-width="2.5"/>
<text x="1449.1" y="964.4" font-size="21.3" fill="#151515" stroke="#151515" stroke-width="0.55" textLength="37.6" lengthAdjust="spacingAndGlyphs">100</text>
<line x1="1490.8" y1="806.3" x2="1504.3" y2="806.3" stroke="#231f20" stroke-width="2.5"/>
<text x="1449.1" y="814.5" font-size="21.3" fill="#151515" stroke="#151515" stroke-width="0.55" textLength="37.6" lengthAdjust="spacingAndGlyphs">500</text>
<line x1="1490.8" y1="741.8" x2="1504.3" y2="741.8" stroke="#231f20" stroke-width="2.5"/>
<text x="1430.3" y="750" font-size="21.3" fill="#151515" stroke="#151515" stroke-width="0.55" textLength="56.3" lengthAdjust="spacingAndGlyphs">1,000</text>
<line x1="1648.5" y1="1275" x2="1648.5" y2="1287.5" stroke="#231f20" stroke-width="2.5"/>
<line x1="1893.5" y1="1275" x2="1893.5" y2="1287.5" stroke="#231f20" stroke-width="2.5"/>
<text x="1595.4" y="1318.1" font-size="28.8" fill="#151515" stroke="#151515" stroke-width="0.55" textLength="121.3" lengthAdjust="spacingAndGlyphs">Non-CPP</text>
<text x="1865.1" y="1318.1" font-size="28.8" fill="#151515" stroke="#151515" stroke-width="0.55" textLength="59" lengthAdjust="spacingAndGlyphs">CPP</text>
<text transform="translate(1422.5,1177.3) rotate(-90)" font-size="28.8" fill="#151515" stroke="#151515" stroke-width="0.55" textLength="340" lengthAdjust="spacingAndGlyphs">Peptide (pMol / 100K cells)</text>
<text x="1535.7" y="773.8" font-size="23" fill="#151515" font-style="italic" stroke="#151515" stroke-width="0.55" textLength="14.2" lengthAdjust="spacingAndGlyphs">p</text>
<text x="1553.9" y="773.8" font-size="23" fill="#151515" stroke="#151515" stroke-width="0.55" textLength="15.9" lengthAdjust="spacingAndGlyphs">=</text>
<text x="1575" y="773.8" font-size="23" fill="#151515" stroke="#151515" stroke-width="0.55" textLength="35" lengthAdjust="spacingAndGlyphs">6.9</text>
<text x="1615.4" y="773.8" font-size="23" fill="#151515" stroke="#151515" stroke-width="0.55" textLength="16.3" lengthAdjust="spacingAndGlyphs">×</text>
<text x="1636.5" y="773.8" font-size="23" fill="#151515" stroke="#151515" stroke-width="0.55" textLength="27.6" lengthAdjust="spacingAndGlyphs">10</text>
<text x="1663.2" y="766.5" font-size="13.5" fill="#151515" stroke="#151515" stroke-width="0.55" textLength="17.7" lengthAdjust="spacingAndGlyphs">−6</text></svg></body></html>
